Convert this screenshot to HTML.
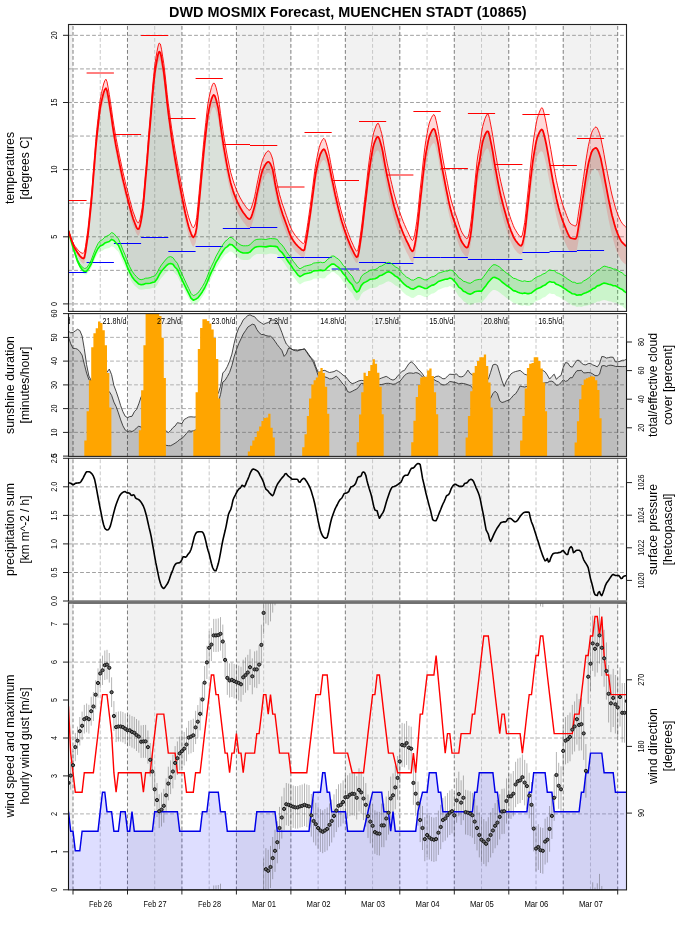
<!DOCTYPE html>
<html><head><meta charset="utf-8"><title>DWD MOSMIX Forecast</title>
<style>html,body{margin:0;padding:0;background:#fff}svg{display:block}</style>
</head><body>
<svg width="696" height="930" viewBox="0 0 696 930" font-family="Liberation Sans, sans-serif">
<rect width="696" height="930" fill="#fff"/>
<defs>
<clipPath id="c1"><rect x="68.5" y="24.5" width="558.0" height="286.9"/></clipPath>
<clipPath id="c2"><rect x="68.5" y="313.6" width="558.0" height="142.79999999999995"/></clipPath>
<clipPath id="c3"><rect x="68.5" y="458.3" width="558.0" height="142.49999999999994"/></clipPath>
<clipPath id="c4"><rect x="68.5" y="602.9" width="558.0" height="287.0"/></clipPath>
</defs>
<g clip-path="url(#c1)">
<rect x="68.5" y="24.5" width="4.5" height="286.9" fill="#f2f2f2"/><rect x="127.5" y="24.5" width="54.5" height="286.9" fill="#f2f2f2"/><rect x="236.4" y="24.5" width="54.5" height="286.9" fill="#f2f2f2"/><rect x="345.4" y="24.5" width="54.5" height="286.9" fill="#f2f2f2"/><rect x="454.3" y="24.5" width="54.5" height="286.9" fill="#f2f2f2"/><rect x="563.2" y="24.5" width="54.5" height="286.9" fill="#f2f2f2"/>
<line x1="68.5" y1="303.93" x2="626.5" y2="303.93" stroke="#a0a0a0" stroke-dasharray="3 3" stroke-linecap="round"/><line x1="68.5" y1="270.36" x2="626.5" y2="270.36" stroke="#a0a0a0" stroke-dasharray="3 3" stroke-linecap="round"/><line x1="68.5" y1="236.78" x2="626.5" y2="236.78" stroke="#a0a0a0" stroke-dasharray="3 3" stroke-linecap="round"/><line x1="68.5" y1="203.21" x2="626.5" y2="203.21" stroke="#a0a0a0" stroke-dasharray="3 3" stroke-linecap="round"/><line x1="68.5" y1="169.63" x2="626.5" y2="169.63" stroke="#a0a0a0" stroke-dasharray="3 3" stroke-linecap="round"/><line x1="68.5" y1="136.06" x2="626.5" y2="136.06" stroke="#a0a0a0" stroke-dasharray="3 3" stroke-linecap="round"/><line x1="68.5" y1="102.48" x2="626.5" y2="102.48" stroke="#a0a0a0" stroke-dasharray="3 3" stroke-linecap="round"/><line x1="68.5" y1="68.91" x2="626.5" y2="68.91" stroke="#a0a0a0" stroke-dasharray="3 3" stroke-linecap="round"/><line x1="68.5" y1="35.33" x2="626.5" y2="35.33" stroke="#a0a0a0" stroke-dasharray="3 3" stroke-linecap="round"/>
<line x1="73" y1="311.4" x2="73" y2="24.5" stroke="#7e7e7e" stroke-dasharray="3 3" stroke-linecap="round"/><line x1="127.47" y1="311.4" x2="127.47" y2="24.5" stroke="#7e7e7e" stroke-dasharray="3 3" stroke-linecap="round"/><line x1="181.94" y1="311.4" x2="181.94" y2="24.5" stroke="#7e7e7e" stroke-dasharray="3 3" stroke-linecap="round"/><line x1="236.41" y1="311.4" x2="236.41" y2="24.5" stroke="#7e7e7e" stroke-dasharray="3 3" stroke-linecap="round"/><line x1="290.88" y1="311.4" x2="290.88" y2="24.5" stroke="#7e7e7e" stroke-dasharray="3 3" stroke-linecap="round"/><line x1="345.35" y1="311.4" x2="345.35" y2="24.5" stroke="#7e7e7e" stroke-dasharray="3 3" stroke-linecap="round"/><line x1="399.82" y1="311.4" x2="399.82" y2="24.5" stroke="#7e7e7e" stroke-dasharray="3 3" stroke-linecap="round"/><line x1="454.29" y1="311.4" x2="454.29" y2="24.5" stroke="#7e7e7e" stroke-dasharray="3 3" stroke-linecap="round"/><line x1="508.76" y1="311.4" x2="508.76" y2="24.5" stroke="#7e7e7e" stroke-dasharray="3 3" stroke-linecap="round"/><line x1="563.23" y1="311.4" x2="563.23" y2="24.5" stroke="#7e7e7e" stroke-dasharray="3 3" stroke-linecap="round"/><line x1="617.7" y1="311.4" x2="617.7" y2="24.5" stroke="#7e7e7e" stroke-dasharray="3 3" stroke-linecap="round"/><line x1="100.24" y1="311.4" x2="100.24" y2="24.5" stroke="#c8c8c8" stroke-dasharray="3 3" stroke-linecap="round"/><line x1="154.71" y1="311.4" x2="154.71" y2="24.5" stroke="#c8c8c8" stroke-dasharray="3 3" stroke-linecap="round"/><line x1="209.18" y1="311.4" x2="209.18" y2="24.5" stroke="#c8c8c8" stroke-dasharray="3 3" stroke-linecap="round"/><line x1="263.65" y1="311.4" x2="263.65" y2="24.5" stroke="#c8c8c8" stroke-dasharray="3 3" stroke-linecap="round"/><line x1="318.12" y1="311.4" x2="318.12" y2="24.5" stroke="#c8c8c8" stroke-dasharray="3 3" stroke-linecap="round"/><line x1="372.59" y1="311.4" x2="372.59" y2="24.5" stroke="#c8c8c8" stroke-dasharray="3 3" stroke-linecap="round"/><line x1="427.06" y1="311.4" x2="427.06" y2="24.5" stroke="#c8c8c8" stroke-dasharray="3 3" stroke-linecap="round"/><line x1="481.53" y1="311.4" x2="481.53" y2="24.5" stroke="#c8c8c8" stroke-dasharray="3 3" stroke-linecap="round"/><line x1="536" y1="311.4" x2="536" y2="24.5" stroke="#c8c8c8" stroke-dasharray="3 3" stroke-linecap="round"/><line x1="590.47" y1="311.4" x2="590.47" y2="24.5" stroke="#c8c8c8" stroke-dasharray="3 3" stroke-linecap="round"/>
<polygon points="68.5,230.7 69.6,234.3 70.7,237.9 71.9,241.2 73,244.1 74.1,246.8 75.3,249 76.4,250.8 77.5,252.6 78.7,254.2 79.8,255.8 80.9,257 82.1,258 83.2,258.5 84.3,257.7 85.5,252.2 86.6,244.4 87.8,236.3 88.9,226.5 90,215.4 91.2,203.6 92.3,191.3 93.4,177.3 94.6,162.6 95.7,148.8 96.8,137.1 98,126.4 99.1,116.4 100.2,107.9 101.4,101.9 102.5,97 103.6,92.7 104.8,89.5 105.9,88.2 107,90.6 108.2,96.7 109.3,103.3 110.4,110.3 111.6,118.2 112.7,126.3 113.9,133.8 115,140.3 116.1,146.5 117.3,152.4 118.4,158.1 119.5,163.7 120.7,169.2 121.8,174.5 122.9,179.6 124.1,184.4 125.2,189.1 126.3,193.7 127.5,198 128.6,202.3 129.7,206.7 130.9,211.1 132,215.1 133.1,218.6 134.3,221.7 135.4,224.7 136.5,227.4 137.7,229.1 138.8,229 140,225.9 141.1,220.6 142.2,214.3 143.4,204.4 144.5,191.8 145.6,178.8 146.8,165.8 147.9,151.9 149,137.8 150.2,124.2 151.3,110.9 152.4,97.2 153.6,84.3 154.7,73.9 155.8,66.5 157,59.8 158.1,54.4 159.2,51.6 160.4,52.7 161.5,57.8 162.6,64.9 163.8,72.3 164.9,81.8 166.1,92.6 167.2,103.2 168.3,112.6 169.5,121.3 170.6,129.7 171.7,137.8 172.9,145.4 174,152.6 175.1,159.4 176.3,166 177.4,172.5 178.5,178.8 179.7,185 180.8,190.9 181.9,196.7 183.1,202.4 184.2,208 185.3,213.3 186.5,218.2 187.6,222.6 188.7,226.8 189.9,230.4 191,233.3 192.2,236.1 193.3,237.3 194.4,236 195.6,233.1 196.7,227.4 197.8,216.6 199,204 200.1,192.3 201.2,179.9 202.4,167.2 203.5,154.9 204.6,144 205.8,133.4 206.9,123.3 208,114.6 209.2,108.4 210.3,103.6 211.4,99.4 212.6,96.2 213.7,94.9 214.8,95.9 216,99.2 217.1,103.5 218.3,108.6 219.4,116.2 220.5,125.1 221.7,133.4 222.8,140.7 223.9,147.8 225.1,154.6 226.2,161 227.3,166.9 228.5,172.7 229.6,178.1 230.7,182.9 231.9,186.9 233,190.6 234.1,193.9 235.3,196.9 236.4,199.7 237.5,202.2 238.7,204.6 239.8,206.8 241,208.9 242.1,210.8 243.2,212.5 244.4,214 245.5,215.5 246.6,217 247.8,218.2 248.9,219 250,219.1 251.2,217.3 252.3,214.1 253.4,210.5 254.6,206.3 255.7,200.8 256.8,194.9 258,189.4 259.1,184.3 260.2,179 261.4,174.1 262.5,170.3 263.6,167.8 264.8,165.6 265.9,163.8 267.1,162.4 268.2,161.8 269.3,162.3 270.5,164 271.6,166.5 272.7,169.8 273.9,176.2 275,183 276.1,188.8 277.3,194.4 278.4,199.5 279.5,204 280.7,208 281.8,211.6 282.9,215 284.1,218.1 285.2,221.2 286.3,224.3 287.5,227.5 288.6,230.7 289.7,233.6 290.9,236.3 292,238.5 293.2,240.4 294.3,242 295.4,243.5 296.6,244.8 297.7,246 298.8,247.1 300,248.1 301.1,249.2 302.2,250 303.4,250.5 304.5,249.7 305.6,243.9 306.8,237.3 307.9,230.4 309,222.7 310.2,214.7 311.3,206.6 312.4,198 313.6,188.9 314.7,180.3 315.8,173 317,167.2 318.1,161.9 319.3,157.4 320.4,154 321.5,151.8 322.7,150 323.8,149.1 324.9,150.2 326.1,153.2 327.2,156.7 328.3,161 329.5,166.5 330.6,172.3 331.7,178 332.9,183.4 334,188.8 335.1,194.2 336.3,199.3 337.4,204.2 338.5,209 339.7,213.6 340.8,217.9 341.9,221.8 343.1,225.5 344.2,229 345.4,232.4 346.5,235.6 347.6,238.6 348.8,241.6 349.9,244.4 351,247 352.2,249.4 353.3,251.6 354.4,253.9 355.6,255.9 356.7,257.1 357.8,256.4 359,251.1 360.1,243.9 361.2,236.5 362.4,227.7 363.5,218 364.6,208.2 365.8,198.9 366.9,189.3 368,179.8 369.2,171 370.3,163.3 371.5,156.1 372.6,149.6 373.7,144.7 374.9,141.5 376,138.8 377.1,137.1 378.3,136.9 379.4,139.1 380.5,142.8 381.7,146.9 382.8,152 383.9,158.5 385.1,165.3 386.2,171.2 387.3,176.7 388.5,182.1 389.6,187.2 390.7,192.2 391.9,197 393,201.7 394.1,206.2 395.3,210.3 396.4,214.1 397.6,217.7 398.7,221.2 399.8,224.5 401,227.6 402.1,230.5 403.2,233.3 404.4,236 405.5,238.5 406.6,241 407.8,243.2 408.9,245.5 410,248 411.2,250.2 412.3,251.4 413.4,250.6 414.6,246.1 415.7,240 416.8,232.8 418,223.2 419.1,212.3 420.2,201.4 421.4,191.2 422.5,180.5 423.7,170 424.8,160.7 425.9,153.4 427.1,146.9 428.2,141.1 429.3,136.6 430.5,133.6 431.6,131.3 432.7,129.6 433.9,128.8 435,130.3 436.1,134.5 437.3,139.6 438.4,145.1 439.5,152 440.7,159.1 441.8,165.6 442.9,171.9 444.1,178 445.2,183.9 446.3,189.6 447.5,195.3 448.6,200.9 449.8,206.1 450.9,210.6 452,214.6 453.2,218.1 454.3,221.4 455.4,224.6 456.6,227.7 457.7,230.9 458.8,234.4 460,237.7 461.1,240.5 462.2,242.5 463.4,244.3 464.5,245.8 465.6,247 466.8,247.7 467.9,247.1 469,243.1 470.2,237.3 471.3,230 472.4,219.5 473.6,207.6 474.7,196.5 475.9,185.3 477,174.7 478.1,167.3 479.3,162.3 480.4,155.3 481.5,147.7 482.7,141.7 483.8,138.1 484.9,135 486.1,132.6 487.2,131.2 488.3,131.6 489.5,135.4 490.6,140.8 491.7,146.2 492.9,152.7 494,159.8 495.1,166.5 496.3,172.9 497.4,179.2 498.6,185.3 499.7,190.8 500.8,195.8 502,200.5 503.1,204.9 504.2,209.1 505.4,213.3 506.5,217.3 507.6,221.1 508.8,224.7 509.9,227.8 511,230.8 512.2,233.7 513.3,236.3 514.4,238.6 515.6,240.4 516.7,241.9 517.8,243.3 519,244.6 520.1,245.5 521.2,245.8 522.4,244 523.5,239.2 524.7,233.3 525.8,224.6 526.9,214 528.1,203.3 529.2,193.2 530.3,182.5 531.5,172.2 532.6,163 533.7,155.6 534.9,148.7 536,142.6 537.1,137.9 538.3,134.8 539.4,132.4 540.5,130.5 541.7,129.5 542.8,130.4 543.9,134.1 545.1,139 546.2,144 547.3,149.9 548.5,156.4 549.6,162.9 550.8,169.1 551.9,175.3 553,181.4 554.2,187.2 555.3,192.9 556.4,198.4 557.6,203.5 558.7,208 559.8,212 561,215.7 562.1,219.1 563.2,222.2 564.4,225.1 565.5,227.8 566.6,230.7 567.8,233.4 568.9,235.7 570,237.4 571.2,238.2 572.3,238.5 573.4,238.7 574.6,238.8 575.7,238.9 576.9,236.7 578,230.1 579.1,222.8 580.3,215.8 581.4,208.1 582.5,200.1 583.7,192.5 584.8,185.1 585.9,177.6 587.1,170.5 588.2,164.5 589.3,159.8 590.5,155.6 591.6,152.1 592.7,150 593.9,148.9 595,148.1 596.1,147.9 597.3,149.1 598.4,151.4 599.5,154.4 600.7,158.2 601.8,163.7 603,169.4 604.1,175.3 605.2,181.5 606.4,187.7 607.5,193.7 608.6,199.4 609.8,205 610.9,210.3 612,215.2 613.2,219.6 614.3,223.8 615.4,227.6 616.6,231 617.7,233.9 618.8,236.5 620,238.9 621.1,240.9 622.2,242.4 623.4,243.7 624.5,244.7 625.6,245.6 626.5,246.3 626.5,292.7 624.5,291.6 622.2,289.4 620,288.5 617.7,287.1 615.4,285.8 613.2,285.8 610.9,284.6 608.6,284.3 606.4,283.5 604.1,283.1 601.8,284 599.5,285.4 597.3,285.9 595,287.9 592.7,288.8 590.5,290.5 588.2,291.8 585.9,292.8 583.7,293.4 581.4,294.9 579.1,294.9 576.9,295.2 574.6,294 572.3,293.8 570,292.2 567.8,290.9 565.5,289.1 563.2,287.8 561,286.2 558.7,285.1 556.4,284.3 554.2,282.3 551.9,282.2 549.6,281.6 547.3,283.1 545.1,285.1 542.8,286 540.5,287.5 538.3,288.3 536,289.3 533.7,291.1 531.5,292.9 529.2,293.6 526.9,293.6 524.7,292.9 522.4,293.6 520.1,293 517.8,292.2 515.6,291.1 513.3,290.6 511,288.7 508.8,286.9 506.5,285.5 504.2,283.6 502,282 499.7,279.7 497.4,278.4 495.1,277.4 492.9,277.5 490.6,279.7 488.3,282.3 486.1,285.4 483.8,288.3 481.5,291.3 479.3,291 477,291.2 474.7,291.8 472.4,293.2 470.2,294.3 467.9,293.6 465.6,292.1 463.4,291.3 461.1,288.6 458.8,287.1 456.6,283.8 454.3,281.1 452,278.7 449.8,278 447.5,279.1 445.2,279.2 442.9,279.9 440.7,280.7 438.4,281.5 436.1,283.4 433.9,284.9 431.6,285.4 429.3,286.7 427.1,288.4 424.8,288.5 422.5,287.4 420.2,286.4 418,286.3 415.7,287.8 413.4,289.1 411.2,288.8 408.9,287.3 406.6,286.2 404.4,284.3 402.1,282.1 399.8,279.4 397.6,277.3 395.3,276.1 393,274.1 390.7,272.5 388.5,271.8 386.2,272.6 383.9,274 381.7,275.2 379.4,275.8 377.1,277.8 374.9,278.7 372.6,279 370.3,279.2 368,280.7 365.8,281.9 363.5,283 361.2,285.6 359,290.7 356.7,292.1 354.4,289.2 352.2,284.7 349.9,282.4 347.6,279.5 345.4,276 343.1,273.5 340.8,270 338.5,267.3 336.3,265.9 334,264 331.7,264.1 329.5,265.9 327.2,267.7 324.9,270.3 322.7,270.6 320.4,270.1 318.1,270.6 315.8,270.7 313.6,270.9 311.3,272.4 309,273 306.8,273.5 304.5,274 302.2,275.4 300,276.6 297.7,274.8 295.4,271.6 293.2,268.9 290.9,265.2 288.6,262.3 286.3,258.9 284.1,255.5 281.8,252.3 279.5,250.4 277.3,246.9 275,246.4 272.7,246.2 270.5,246 268.2,246.4 265.9,246.9 263.6,246.7 261.4,246.5 259.1,246.5 256.8,246.8 254.6,247.6 252.3,249.5 250,252.1 247.8,252.9 245.5,253 243.2,253 241,252.3 238.7,250.8 236.4,248.9 234.1,246.7 231.9,244.7 229.6,244.4 227.3,246.6 225.1,248.1 222.8,251.3 220.5,254.7 218.3,258.6 216,262.3 213.7,267.6 211.4,272.1 209.2,277.1 206.9,283 204.6,288 202.4,291.7 200.1,295.1 197.8,297.9 195.6,299.3 193.3,300.2 191,298.1 188.7,293.4 186.5,289.1 184.2,284.3 181.9,279.7 179.7,274.9 177.4,269.5 175.1,267.2 172.9,264.3 170.6,263.5 168.3,264.1 166.1,265.9 163.8,268.6 161.5,271.3 159.2,274.8 157,279.1 154.7,282 152.4,282.4 150.2,283.2 147.9,283.5 145.6,283.5 143.4,284.4 141.1,284.7 138.8,284.1 136.5,281.9 134.3,279.8 132,276.7 129.7,272.4 127.5,267.4 125.2,261.3 122.9,256.1 120.7,250.5 118.4,245.3 116.1,243 113.9,240.5 111.6,239.4 109.3,241.5 107,242.2 104.8,243.1 102.5,245.1 100.2,246 98,248.5 95.7,253 93.4,258.4 91.2,264 88.9,268.1 86.6,271.3 84.3,271.4 82.1,269.5 79.8,266.2 77.5,261.5 75.3,254.8 73,247.5 70.7,239.8 68.5,230.7" fill="rgba(0,45,0,0.145)"/>
<polygon points="68.5,230.7 69.6,233.9 70.7,237.1 71.9,240 73,242.6 74.1,244.8 75.3,246.6 76.4,248 77.5,249.4 78.7,250.7 79.8,251.8 80.9,252.6 82.1,253.2 83.2,253.3 84.3,252.2 85.5,246.5 86.6,238.5 87.8,230.3 88.9,220.3 90,209 91.2,197 92.3,184.5 93.4,170.3 94.6,155.5 95.7,141.4 96.8,129.6 98,118.7 99.1,108.5 100.2,99.9 101.4,93.6 102.5,88.6 103.6,84 104.8,80.7 105.9,79.2 107,81.7 108.2,87.9 109.3,94.5 110.4,101.6 111.6,109.7 112.7,117.9 113.9,125.4 115,132.1 116.1,138.3 117.3,144.3 118.4,150.2 119.5,155.9 120.7,161.4 121.8,166.8 122.9,172 124.1,176.9 125.2,181.7 126.3,186.4 127.5,190.8 128.6,195.2 129.7,199.7 130.9,204.1 132,208.3 133.1,211.9 134.3,215 135.4,218.2 136.5,220.9 137.7,222.7 138.8,222.7 140,219.4 141.1,214 142.2,207.6 143.4,197.5 144.5,184.8 145.6,171.7 146.8,158.6 147.9,144.6 149,130.3 150.2,116.6 151.3,103.2 152.4,89.3 153.6,76.4 154.7,65.8 155.8,58.3 157,51.5 158.1,46 159.2,43 160.4,44 161.5,49.2 162.6,56.2 163.8,63.6 164.9,73.1 166.1,83.8 167.2,94.4 168.3,103.7 169.5,112.4 170.6,120.8 171.7,128.8 172.9,136.4 174,143.6 175.1,150.4 176.3,157 177.4,163.4 178.5,169.7 179.7,175.8 180.8,181.8 181.9,187.5 183.1,193.2 184.2,198.7 185.3,204 186.5,208.9 187.6,213.3 188.7,217.4 189.9,221 191,223.9 192.2,226.6 193.3,227.8 194.4,226.3 195.6,223.3 196.7,217.5 197.8,206.6 199,193.8 200.1,181.9 201.2,169.4 202.4,156.5 203.5,144.2 204.6,133.1 205.8,122.4 206.9,112.1 208,103.3 209.2,97 210.3,92 211.4,87.6 212.6,84.4 213.7,82.9 214.8,84 216,87.3 217.1,91.8 218.3,97 219.4,104.7 220.5,113.6 221.7,122.1 222.8,129.5 223.9,136.7 225.1,143.6 226.2,150 227.3,156.1 228.5,162 229.6,167.5 230.7,172.4 231.9,176.5 233,180.2 234.1,183.6 235.3,186.7 236.4,189.6 237.5,192.3 238.7,194.7 239.8,197.1 241,199.2 242.1,201.2 243.2,203 244.4,204.6 245.5,206.3 246.6,207.8 247.8,209.2 248.9,210.1 250,210.2 251.2,208.2 252.3,204.9 253.4,201.2 254.6,196.8 255.7,191.3 256.8,185.2 258,179.5 259.1,174.3 260.2,168.9 261.4,163.9 262.5,159.9 263.6,157.3 264.8,155 265.9,153 267.1,151.6 268.2,150.8 269.3,151.4 270.5,153.2 271.6,155.9 272.7,159.2 273.9,165.8 275,172.8 276.1,178.7 277.3,184.4 278.4,189.7 279.5,194.3 280.7,198.4 281.8,202.2 282.9,205.6 284.1,208.9 285.2,212.2 286.3,215.4 287.5,218.7 288.6,222 289.7,225.1 290.9,227.9 292,230.3 293.2,232.2 294.3,234 295.4,235.6 296.6,237 297.7,238.4 298.8,239.5 300,240.8 301.1,241.9 302.2,242.9 303.4,243.5 304.5,242.4 305.6,236.5 306.8,229.6 307.9,222.5 309,214.7 310.2,206.4 311.3,198.2 312.4,189.4 313.6,180 314.7,171.2 315.8,163.7 317,157.7 318.1,152.2 319.3,147.4 320.4,143.9 321.5,141.4 322.7,139.4 323.8,138.3 324.9,139.5 326.1,142.7 327.2,146.4 328.3,150.9 329.5,156.5 330.6,162.6 331.7,168.4 332.9,174 334,179.6 335.1,185.1 336.3,190.4 337.4,195.5 338.5,200.4 339.7,205.2 340.8,209.7 341.9,213.8 343.1,217.7 344.2,221.4 345.4,224.9 346.5,228.2 347.6,231.5 348.8,234.6 349.9,237.6 351,240.4 352.2,242.9 353.3,245.3 354.4,247.8 355.6,250 356.7,251.3 357.8,250.4 359,244.7 360.1,237.1 361.2,229.3 362.4,220 363.5,209.9 364.6,199.7 365.8,190 366.9,179.9 368,169.9 369.2,160.7 370.3,152.6 371.5,144.9 372.6,138 373.7,132.7 374.9,129.1 376,126 377.1,123.8 378.3,123.3 379.4,125.6 380.5,129.4 381.7,133.6 382.8,138.8 383.9,145.4 385.1,152.2 386.2,158.2 387.3,163.8 388.5,169.3 389.6,174.5 390.7,179.5 391.9,184.5 393,189.2 394.1,193.8 395.3,198 396.4,201.9 397.6,205.6 398.7,209.1 399.8,212.5 401,215.7 402.1,218.7 403.2,221.6 404.4,224.4 405.5,227 406.6,229.5 407.8,231.8 408.9,234.3 410,236.8 411.2,239.1 412.3,240.4 413.4,239.5 414.6,234.8 415.7,228.5 416.8,221.2 418,211.4 419.1,200.3 420.2,189.2 421.4,178.9 422.5,168 423.7,157.3 424.8,147.8 425.9,140.4 427.1,133.7 428.2,127.7 429.3,123 430.5,119.9 431.6,117.4 432.7,115.5 433.9,114.5 435,116.2 436.1,120.5 437.3,125.8 438.4,131.5 439.5,138.6 440.7,145.9 441.8,152.6 442.9,159 444.1,165.3 445.2,171.4 446.3,177.3 447.5,183.2 448.6,189 449.8,194.3 450.9,199.1 452,203.2 453.2,206.9 454.3,210.4 455.4,213.8 456.6,217.1 457.7,220.5 458.8,224.1 460,227.6 461.1,230.6 462.2,232.8 463.4,234.7 464.5,236.5 465.6,237.8 466.8,238.7 467.9,237.9 469,233.5 470.2,227.2 471.3,219.5 472.4,208.5 473.6,196.2 474.7,184.6 475.9,172.9 477,161.8 478.1,153.9 479.3,148.5 480.4,141.1 481.5,133 482.7,126.4 483.8,122.4 484.9,118.8 486.1,116 487.2,114.1 488.3,114.3 489.5,118.4 490.6,124.1 491.7,129.8 492.9,136.6 494,144 495.1,151 496.3,157.7 497.4,164.3 498.6,170.6 499.7,176.5 500.8,181.8 502,186.8 503.1,191.5 504.2,196 505.4,200.4 506.5,204.8 507.6,208.9 508.8,212.7 509.9,216.2 511,219.5 512.2,222.6 513.3,225.6 514.4,228.1 515.6,230.2 516.7,232 517.8,233.8 519,235.3 520.1,236.5 521.2,237.2 522.4,234.8 523.5,229.2 524.7,222.6 525.8,213.1 526.9,201.8 528.1,190.4 529.2,179.5 530.3,168.1 531.5,157 532.6,147.1 533.7,139 534.9,131.3 536,124.5 537.1,119 538.3,115.3 539.4,112.1 540.5,109.4 541.7,107.7 542.8,108.6 543.9,112.6 545.1,117.9 546.2,123.2 547.3,129.4 548.5,136.2 549.6,143 550.8,149.5 551.9,156 553,162.4 554.2,168.5 555.3,174.5 556.4,180.4 557.6,185.8 558.7,190.5 559.8,194.8 561,198.9 562.1,202.6 563.2,206.1 564.4,209.3 565.5,212.3 566.6,215.4 567.8,218.4 568.9,221.1 570,223.1 571.2,224.2 572.3,224.8 573.4,225.3 574.6,225.8 575.7,226.1 576.9,223.6 578,216.5 579.1,208.8 580.3,201.3 581.4,193.1 582.5,184.7 583.7,176.6 584.8,168.7 585.9,160.7 587.1,153.2 588.2,146.7 589.3,141.6 590.5,136.8 591.6,132.9 592.7,130.4 593.9,128.7 595,127.4 596.1,126.9 597.3,128.1 598.4,130.6 599.5,133.6 600.7,137.5 601.8,143 603,148.8 604.1,154.7 605.2,161 606.4,167.3 607.5,173.3 608.6,179 609.8,184.7 610.9,190.1 612,195 613.2,199.5 614.3,203.7 615.4,207.6 616.6,211.1 617.7,214.2 618.8,216.9 620,219.5 621.1,221.6 622.2,223.3 623.4,224.7 624.5,225.9 625.6,226.9 626.5,227.7 626.5,264.9 625.6,264.3 624.5,263.6 623.4,262.7 622.2,261.6 621.1,260.2 620,258.3 618.8,256.1 617.7,253.6 616.6,250.9 615.4,247.6 614.3,243.8 613.2,239.7 612,235.4 610.9,230.5 609.8,225.3 608.6,219.7 607.5,214.1 606.4,208.2 605.2,202 604.1,195.9 603,190.1 601.8,184.4 600.7,179 599.5,175.2 598.4,172.3 597.3,170 596.1,168.9 595,168.7 593.9,169 592.7,169.7 591.6,171.4 590.5,174.3 589.3,178.1 588.2,182.3 587.1,187.8 585.9,194.5 584.8,201.5 583.7,208.4 582.5,215.6 581.4,223.1 580.3,230.3 579.1,236.9 578,243.7 576.9,249.8 575.7,251.6 574.6,251.9 573.4,252.1 572.3,252.2 571.2,252.2 570,251.7 568.9,250.3 567.8,248.3 566.6,245.9 565.5,243.4 564.4,241 563.2,238.4 562.1,235.6 561,232.5 559.8,229.1 558.7,225.4 557.6,221.2 556.4,216.5 555.3,211.2 554.2,205.8 553,200.4 551.9,194.6 550.8,188.7 549.6,182.8 548.5,176.7 547.3,170.4 546.2,164.8 545.1,160.2 543.9,155.5 542.8,152.2 541.7,151.3 540.5,151.5 539.4,152.7 538.3,154.4 537.1,156.7 536,160.7 534.9,166.1 533.7,172.2 532.6,178.9 531.5,187.3 530.3,197 529.2,206.9 528.1,216.2 526.9,226.2 525.8,236.1 524.7,244 523.5,249.2 522.4,253.3 521.2,254.5 520.1,254.4 519,253.8 517.8,252.9 516.7,251.7 515.6,250.5 514.4,249 513.3,247 512.2,244.7 511,242.1 509.9,239.4 508.8,236.6 507.6,233.4 506.5,229.8 505.4,226.1 504.2,222.3 503.1,218.3 502,214.2 500.8,209.9 499.7,205.1 498.6,199.9 497.4,194.1 496.3,188.1 495.1,182.1 494,175.6 492.9,168.8 491.7,162.6 490.6,157.5 489.5,152.4 488.3,148.9 487.2,148.3 486.1,149.2 484.9,151.1 483.8,153.8 482.7,156.9 481.5,162.5 480.4,169.6 479.3,176.1 478.1,180.6 477,187.5 475.9,197.7 474.7,208.5 473.6,219.1 472.4,230.5 471.3,240.6 470.2,247.3 469,252.7 467.9,256.2 466.8,256.7 465.6,256.2 464.5,255.2 463.4,253.8 462.2,252.3 461.1,250.4 460,247.8 458.8,244.7 457.7,241.4 456.6,238.4 455.4,235.4 454.3,232.4 453.2,229.3 452,225.9 450.9,222.2 449.8,217.8 448.6,212.8 447.5,207.4 446.3,201.9 445.2,196.4 444.1,190.6 442.9,184.7 441.8,178.7 440.7,172.3 439.5,165.4 438.4,158.7 437.3,153.4 436.1,148.4 435,144.4 433.9,143.1 432.7,143.7 431.6,145.3 430.5,147.4 429.3,150.1 428.2,154.5 427.1,160.1 425.9,166.5 424.8,173.6 423.7,182.7 422.5,193 421.4,203.6 420.2,213.6 419.1,224.3 418,235 416.8,244.5 415.7,251.4 414.6,257.4 413.4,261.7 412.3,262.5 411.2,261.3 410,259.2 408.9,256.8 407.8,254.6 406.6,252.4 405.5,250.1 404.4,247.6 403.2,245 402.1,242.3 401,239.4 399.8,236.4 398.7,233.2 397.6,229.9 396.4,226.3 395.3,222.6 394.1,218.5 393,214.2 391.9,209.6 390.7,204.8 389.6,199.9 388.5,194.9 387.3,189.6 386.2,184.2 385.1,178.3 383.9,171.7 382.8,165.3 381.7,160.2 380.5,156.2 379.4,152.6 378.3,150.5 377.1,150.4 376,151.7 374.9,154 373.7,156.7 372.6,161.2 371.5,167.2 370.3,174.1 369.2,181.2 368,189.6 366.9,198.7 365.8,207.9 364.6,216.8 363.5,226.1 362.4,235.4 361.2,243.8 360.1,250.7 359,257.5 357.8,262.3 356.7,262.9 355.6,261.9 354.4,260 353.3,257.9 352.2,255.9 351,253.7 349.9,251.2 348.8,248.6 347.6,245.8 346.5,242.9 345.4,239.9 344.2,236.7 343.1,233.4 341.9,229.8 340.8,226.1 339.7,222 338.5,217.5 337.4,213 336.3,208.2 335.1,203.3 334,198.1 332.9,192.8 331.7,187.6 330.6,182.1 329.5,176.4 328.3,171.2 327.2,167 326.1,163.6 324.9,160.8 323.8,159.9 322.7,160.5 321.5,162.1 320.4,164.2 319.3,167.3 318.1,171.6 317,176.8 315.8,182.4 314.7,189.4 313.6,197.8 312.4,206.7 311.3,215.1 310.2,223 309,230.8 307.9,238.2 306.8,244.9 305.6,251.4 304.5,256.9 303.4,257.5 302.2,257.2 301.1,256.4 300,255.5 298.8,254.6 297.7,253.6 296.6,252.6 295.4,251.4 294.3,250.1 293.2,248.5 292,246.8 290.9,244.7 289.7,242.2 288.6,239.3 287.5,236.3 286.3,233.3 285.2,230.3 284.1,227.4 282.9,224.3 281.8,221.1 280.7,217.6 279.5,213.8 278.4,209.4 277.3,204.4 276.1,198.9 275,193.2 273.9,186.6 272.7,180.3 271.6,177.2 270.5,174.7 269.3,173.2 268.2,172.8 267.1,173.3 265.9,174.5 264.8,176.2 263.6,178.3 262.5,180.6 261.4,184.3 260.2,189.1 259.1,194.2 258,199.2 256.8,204.6 255.7,210.4 254.6,215.7 253.4,219.8 252.3,223.3 251.2,226.4 250,228 248.9,228 247.8,227.3 246.6,226.2 245.5,224.8 244.4,223.3 243.2,221.9 242.1,220.3 241,218.5 239.8,216.6 238.7,214.4 237.5,212.2 236.4,209.7 235.3,207 234.1,204.1 233,200.9 231.9,197.4 230.7,193.4 229.6,188.7 228.5,183.4 227.3,177.8 226.2,171.9 225.1,165.6 223.9,158.9 222.8,151.9 221.7,144.8 220.5,136.5 219.4,127.7 218.3,120.2 217.1,115.2 216,111 214.8,107.8 213.7,106.9 212.6,108.1 211.4,111.1 210.3,115.2 209.2,119.9 208,125.9 206.9,134.4 205.8,144.4 204.6,154.9 203.5,165.7 202.4,177.8 201.2,190.4 200.1,202.6 199,214.2 197.8,226.7 196.7,237.3 195.6,242.9 194.4,245.6 193.3,246.8 192.2,245.5 191,242.8 189.9,239.8 188.7,236.2 187.6,232 186.5,227.6 185.3,222.6 184.2,217.2 183.1,211.6 181.9,205.9 180.8,200.1 179.7,194.1 178.5,187.9 177.4,181.5 176.3,175.1 175.1,168.4 174,161.6 172.9,154.3 171.7,146.7 170.6,138.6 169.5,130.2 168.3,121.4 167.2,112 166.1,101.4 164.9,90.6 163.8,81 162.6,73.5 161.5,66.5 160.4,61.3 159.2,60.2 158.1,62.9 157,68.1 155.8,74.7 154.7,82 153.6,92.3 152.4,105 151.3,118.6 150.2,131.8 149,145.2 147.9,159.2 146.8,173 145.6,185.9 144.5,198.7 143.4,211.2 142.2,221 141.1,227.2 140,232.4 138.8,235.4 137.7,235.4 136.5,233.8 135.4,231.3 134.3,228.3 133.1,225.4 132,221.9 130.9,218 129.7,213.8 128.6,209.5 127.5,205.3 126.3,201 125.2,196.5 124.1,191.9 122.9,187.1 121.8,182.2 120.7,177 119.5,171.6 118.4,166.1 117.3,160.5 116.1,154.6 115,148.6 113.9,142.1 112.7,134.8 111.6,126.8 110.4,118.9 109.3,112 108.2,105.5 107,99.5 105.9,97.2 104.8,98.3 103.6,101.3 102.5,105.4 101.4,110.1 100.2,116 99.1,124.2 98,134.1 96.8,144.7 95.7,156.1 94.6,169.7 93.4,184.2 92.3,198.1 91.2,210.2 90,221.8 88.9,232.7 87.8,242.4 86.6,250.2 85.5,257.9 84.3,263.2 83.2,263.7 82.1,262.8 80.9,261.4 79.8,259.7 78.7,257.8 77.5,255.8 76.4,253.6 75.3,251.4 74.1,248.8 73,245.7 71.9,242.3 70.7,238.6 69.6,234.7 68.5,230.7" fill="rgba(255,0,0,0.15)"/>
<polygon points="68.5,230.4 70.7,239.2 73,246.5 75.3,253.4 77.5,259.7 79.8,264 82.1,266.9 84.3,268.5 86.6,268 88.9,264.5 91.2,260.1 93.4,254.2 95.7,248.4 98,243.6 100.2,240.8 102.5,239.6 104.8,237.2 107,236 109.3,234.9 111.6,232.5 113.9,233.6 116.1,236.3 118.4,238.7 120.7,244.1 122.9,249.9 125.2,255.2 127.5,261.5 129.7,266.7 132,271.1 134.3,274.3 136.5,276.6 138.8,279 141.1,279.7 143.4,279.2 145.6,278.2 147.9,278.1 150.2,277.6 152.4,276.6 154.7,276 157,273 159.2,268.6 161.5,264.9 163.8,262 166.1,259.1 168.3,257.2 170.6,256.6 172.9,257.6 175.1,260.7 177.4,263.3 179.7,269 181.9,273.9 184.2,278.8 186.5,283.9 188.7,288.4 191,293.4 193.3,295.7 195.6,294.6 197.8,293.1 200.1,290.1 202.4,286.6 204.6,282.7 206.9,277.6 209.2,271.5 211.4,266.4 213.7,261.7 216,256.3 218.3,252.3 220.5,248.3 222.8,244.8 225.1,241.4 227.3,239.8 229.6,237.4 231.9,237.7 234.1,239.6 236.4,241.9 238.7,243.7 241,245.2 243.2,245.8 245.5,245.8 247.8,245.7 250,244.8 252.3,242.2 254.6,240.3 256.8,239.4 259.1,239.2 261.4,239.1 263.6,239.3 265.9,239.5 268.2,238.9 270.5,238.5 272.7,238.7 275,238.8 277.3,239.4 279.5,242.8 281.8,244.7 284.1,247.8 286.3,251.3 288.6,254.6 290.9,257.5 293.2,261.2 295.4,263.9 297.7,267.1 300,268.9 302.2,267.6 304.5,266.3 306.8,265.7 309,265.2 311.3,264.6 313.6,263.1 315.8,262.8 318.1,262.7 320.4,262.2 322.7,262.7 324.9,262.3 327.2,259.7 329.5,258 331.7,256.1 334,256 336.3,257.8 338.5,259.2 340.8,261.8 343.1,265.2 345.4,267.7 347.6,271.1 349.9,273.9 352.2,276.2 354.4,280.7 356.7,283.4 359,282 361.2,276.8 363.5,274.2 365.8,273 368,271.7 370.3,270.2 372.6,269.9 374.9,269.6 377.1,268.6 379.4,266.6 381.7,265.9 383.9,264.6 386.2,263.1 388.5,262.3 390.7,263 393,264.7 395.3,266.8 397.6,268 399.8,270.1 402.1,272.9 404.4,275.2 406.6,277.2 408.9,278.3 411.2,279.9 413.4,280.2 415.7,278.9 418,277.5 420.2,277.7 422.5,278.8 424.8,279.9 427.1,279.8 429.3,278.2 431.6,276.9 433.9,276.5 436.1,275.1 438.4,273.2 440.7,272.5 442.9,271.8 445.2,271 447.5,271.1 449.8,270 452,270.4 454.3,272.4 456.6,274.8 458.8,277.8 461.1,279 463.4,281.3 465.6,281.8 467.9,282.9 470.2,283.3 472.4,282 474.7,280.4 477,279.8 479.3,279.4 481.5,279.5 483.8,276.4 486.1,273.3 488.3,270.1 490.6,267.3 492.9,264.9 495.1,264.7 497.4,265.7 499.7,267.1 502,269.4 504.2,271.1 506.5,273.1 508.8,274.5 511,276.3 513.3,278.2 515.6,278.7 517.8,279.9 520.1,280.7 522.4,281.4 524.7,280.8 526.9,281.5 529.2,281.5 531.5,280.9 533.7,279.1 536,277.4 538.3,276.4 540.5,275.6 542.8,274.1 545.1,273.3 547.3,271.4 549.6,269.9 551.9,270.5 554.2,270.6 556.4,272.6 558.7,273.4 561,274.5 563.2,276.1 565.5,277.4 567.8,279.2 570,280.5 572.3,282.1 574.6,282.3 576.9,283.5 579.1,283.2 581.4,282.9 583.7,280.9 585.9,279.8 588.2,278.3 590.5,276.5 592.7,274.3 595,272.9 597.3,270.3 599.5,269.4 601.8,267.5 604.1,266.1 606.4,266.6 608.6,267.4 610.9,267.8 613.2,269 615.4,269.1 617.7,270.4 620,271.9 622.2,272.8 624.5,275.1 626.5,276.2 626.5,309.2 624.5,308.2 622.2,306 620,305.2 617.7,303.8 615.4,302.6 613.2,302.6 610.9,301.5 608.6,301.2 606.4,300.5 604.1,300.1 601.8,300.5 599.5,301.5 597.3,301.4 595,303 592.7,303.3 590.5,304.5 588.2,305.3 585.9,305.8 583.7,305.9 581.4,306.9 579.1,306.6 576.9,306.9 574.6,305.7 572.3,305.5 570,303.9 567.8,302.6 565.5,300.8 563.2,299.5 561,297.9 558.7,296.8 556.4,296 554.2,294 551.9,293.9 549.6,293.3 547.3,294.9 545.1,296.9 542.8,297.8 540.5,299.4 538.3,300.2 536,301.3 533.7,303 531.5,305 529.2,305.7 526.9,305.7 524.7,305.1 522.4,305.8 520.1,305.2 517.8,304.5 515.6,303.4 513.3,302.9 511,301.1 508.8,299.4 506.5,298 504.2,296.1 502,294.6 499.7,292.4 497.4,291 495.1,290.1 492.9,290.1 490.6,292.1 488.3,294.6 486.1,297.5 483.8,300.2 481.5,303 479.3,302.6 477,302.7 474.7,303.1 472.4,304.3 470.2,305.3 467.9,304.3 465.6,302.4 463.4,301.3 461.1,298.3 458.8,296.4 456.6,292.8 454.3,289.7 452,287 449.8,286 447.5,287.2 445.2,287.3 442.9,288.1 440.7,289 438.4,289.8 436.1,291.7 433.9,293.3 431.6,293.8 429.3,295.2 427.1,296.9 424.8,297.1 422.5,296.1 420.2,295.1 418,295 415.7,296.6 413.4,298 411.2,297.7 408.9,296.3 406.6,295.2 404.4,293.4 402.1,291.3 399.8,288.6 397.6,286.5 395.3,285.5 393,283.4 390.7,281.9 388.5,281.3 386.2,282 383.9,283.4 381.7,284.5 379.4,285.1 377.1,287 374.9,287.8 372.6,288.1 370.3,288.2 368,289.6 365.8,290.8 363.5,291.9 361.2,294.4 359,299.4 356.7,300.7 354.4,297.8 352.2,293.2 349.9,290.9 347.6,287.9 345.4,284.3 343.1,281.8 340.8,278.2 338.5,275.5 336.3,274 334,272.1 331.7,272.1 329.5,273.9 327.2,275.6 324.9,278.2 322.7,278.6 320.4,278 318.1,278.4 315.8,278.6 313.6,278.8 311.3,280.3 309,280.8 306.8,281.2 304.5,281.8 302.2,283.1 300,284.4 297.7,282.5 295.4,279.3 293.2,276.6 290.9,272.9 288.6,269.9 286.3,266.5 284.1,263.1 281.8,259.9 279.5,258 277.3,254.5 275,253.9 272.7,253.7 270.5,253.5 268.2,253.9 265.9,254.4 263.6,254.1 261.4,253.9 259.1,253.9 256.8,254.1 254.6,254.9 252.3,256.7 250,259.3 247.8,260.1 245.5,260.1 243.2,260.1 241,259.4 238.7,257.9 236.4,256 234.1,253.7 231.9,251.7 229.6,251.4 227.3,253.4 225.1,254.8 222.8,257.8 220.5,261.1 218.3,264.8 216,268.4 213.7,273.5 211.4,277.9 209.2,282.7 206.9,288.4 204.6,293.3 202.4,296.8 200.1,300.1 197.8,302.8 195.6,303.9 193.3,304.7 191,302.8 188.7,298.3 186.5,294.4 184.2,289.7 181.9,285.4 179.7,280.9 177.4,275.7 175.1,273.6 172.9,271 170.6,270.5 168.3,271 166.1,272.6 163.8,275.2 161.5,277.7 159.2,281.1 157,285.2 154.7,287.9 152.4,288.1 150.2,288.8 147.9,289 145.6,288.9 143.4,289.6 141.1,289.7 138.8,289.3 136.5,287.2 134.3,285.2 132,282.3 129.7,278.2 127.5,273.4 125.2,267.3 122.9,262.4 120.7,256.9 118.4,251.8 116.1,249.7 113.9,247.3 111.6,246.3 109.3,248.1 107,248.5 104.8,249 102.5,250.7 100.2,251.3 98,253.4 95.7,257.6 93.4,262.7 91.2,267.9 88.9,271.6 86.6,274.5 84.3,274.3 82.1,272 79.8,268.3 77.5,263.3 75.3,256.2 73,248.5 70.7,240.5 68.5,231" fill="rgba(0,255,0,0.16)"/>
<line x1="68.5" y1="200.5" x2="86.6" y2="200.5" stroke="#ff0000" stroke-width="1"/>
<line x1="68.5" y1="272.5" x2="86.6" y2="272.5" stroke="#0000ff" stroke-width="1"/>
<line x1="86.6" y1="73" x2="113.9" y2="73" stroke="#ff0000" stroke-width="1"/>
<line x1="86.6" y1="262.5" x2="113.9" y2="262.5" stroke="#0000ff" stroke-width="1"/>
<line x1="113.9" y1="134.5" x2="141.1" y2="134.5" stroke="#ff0000" stroke-width="1"/>
<line x1="113.9" y1="243.5" x2="141.1" y2="243.5" stroke="#0000ff" stroke-width="1"/>
<line x1="141.1" y1="35.5" x2="168.3" y2="35.5" stroke="#ff0000" stroke-width="1"/>
<line x1="141.1" y1="237.5" x2="168.3" y2="237.5" stroke="#0000ff" stroke-width="1"/>
<line x1="168.3" y1="118.5" x2="195.6" y2="118.5" stroke="#ff0000" stroke-width="1"/>
<line x1="168.3" y1="251.5" x2="195.6" y2="251.5" stroke="#0000ff" stroke-width="1"/>
<line x1="195.6" y1="78.5" x2="222.8" y2="78.5" stroke="#ff0000" stroke-width="1"/>
<line x1="195.6" y1="246.5" x2="222.8" y2="246.5" stroke="#0000ff" stroke-width="1"/>
<line x1="222.8" y1="144.5" x2="250" y2="144.5" stroke="#ff0000" stroke-width="1"/>
<line x1="222.8" y1="228.5" x2="250" y2="228.5" stroke="#0000ff" stroke-width="1"/>
<line x1="250" y1="145.5" x2="277.3" y2="145.5" stroke="#ff0000" stroke-width="1"/>
<line x1="250" y1="227.5" x2="277.3" y2="227.5" stroke="#0000ff" stroke-width="1"/>
<line x1="277.3" y1="187" x2="304.5" y2="187" stroke="#ff0000" stroke-width="1"/>
<line x1="277.3" y1="257.5" x2="304.5" y2="257.5" stroke="#0000ff" stroke-width="1"/>
<line x1="304.5" y1="132.5" x2="331.7" y2="132.5" stroke="#ff0000" stroke-width="1"/>
<line x1="304.5" y1="257.5" x2="331.7" y2="257.5" stroke="#0000ff" stroke-width="1"/>
<line x1="331.7" y1="180.5" x2="359" y2="180.5" stroke="#ff0000" stroke-width="1"/>
<line x1="331.7" y1="269" x2="359" y2="269" stroke="#0000ff" stroke-width="1"/>
<line x1="359" y1="121.5" x2="386.2" y2="121.5" stroke="#ff0000" stroke-width="1"/>
<line x1="359" y1="262.5" x2="386.2" y2="262.5" stroke="#0000ff" stroke-width="1"/>
<line x1="386.2" y1="175" x2="413.4" y2="175" stroke="#ff0000" stroke-width="1"/>
<line x1="386.2" y1="263.5" x2="413.4" y2="263.5" stroke="#0000ff" stroke-width="1"/>
<line x1="413.4" y1="111.5" x2="440.7" y2="111.5" stroke="#ff0000" stroke-width="1"/>
<line x1="413.4" y1="257.5" x2="440.7" y2="257.5" stroke="#0000ff" stroke-width="1"/>
<line x1="440.7" y1="168.5" x2="467.9" y2="168.5" stroke="#ff0000" stroke-width="1"/>
<line x1="440.7" y1="257.5" x2="467.9" y2="257.5" stroke="#0000ff" stroke-width="1"/>
<line x1="467.9" y1="113.5" x2="495.1" y2="113.5" stroke="#ff0000" stroke-width="1"/>
<line x1="467.9" y1="259.5" x2="495.1" y2="259.5" stroke="#0000ff" stroke-width="1"/>
<line x1="495.1" y1="164.5" x2="522.4" y2="164.5" stroke="#ff0000" stroke-width="1"/>
<line x1="495.1" y1="259.5" x2="522.4" y2="259.5" stroke="#0000ff" stroke-width="1"/>
<line x1="522.4" y1="114.5" x2="549.6" y2="114.5" stroke="#ff0000" stroke-width="1"/>
<line x1="522.4" y1="252.5" x2="549.6" y2="252.5" stroke="#0000ff" stroke-width="1"/>
<line x1="549.6" y1="165.5" x2="576.9" y2="165.5" stroke="#ff0000" stroke-width="1"/>
<line x1="549.6" y1="251.5" x2="576.9" y2="251.5" stroke="#0000ff" stroke-width="1"/>
<line x1="576.9" y1="138.5" x2="604.1" y2="138.5" stroke="#ff0000" stroke-width="1"/>
<line x1="576.9" y1="250.5" x2="604.1" y2="250.5" stroke="#0000ff" stroke-width="1"/>
<polyline points="68.5,230.4 70.7,239.2 73,246.5 75.3,253.4 77.5,259.7 79.8,264 82.1,266.9 84.3,268.5 86.6,268 88.9,264.5 91.2,260.1 93.4,254.2 95.7,248.4 98,243.6 100.2,240.8 102.5,239.6 104.8,237.2 107,236 109.3,234.9 111.6,232.5 113.9,233.6 116.1,236.3 118.4,238.7 120.7,244.1 122.9,249.9 125.2,255.2 127.5,261.5 129.7,266.7 132,271.1 134.3,274.3 136.5,276.6 138.8,279 141.1,279.7 143.4,279.2 145.6,278.2 147.9,278.1 150.2,277.6 152.4,276.6 154.7,276 157,273 159.2,268.6 161.5,264.9 163.8,262 166.1,259.1 168.3,257.2 170.6,256.6 172.9,257.6 175.1,260.7 177.4,263.3 179.7,269 181.9,273.9 184.2,278.8 186.5,283.9 188.7,288.4 191,293.4 193.3,295.7 195.6,294.6 197.8,293.1 200.1,290.1 202.4,286.6 204.6,282.7 206.9,277.6 209.2,271.5 211.4,266.4 213.7,261.7 216,256.3 218.3,252.3 220.5,248.3 222.8,244.8 225.1,241.4 227.3,239.8 229.6,237.4 231.9,237.7 234.1,239.6 236.4,241.9 238.7,243.7 241,245.2 243.2,245.8 245.5,245.8 247.8,245.7 250,244.8 252.3,242.2 254.6,240.3 256.8,239.4 259.1,239.2 261.4,239.1 263.6,239.3 265.9,239.5 268.2,238.9 270.5,238.5 272.7,238.7 275,238.8 277.3,239.4 279.5,242.8 281.8,244.7 284.1,247.8 286.3,251.3 288.6,254.6 290.9,257.5 293.2,261.2 295.4,263.9 297.7,267.1 300,268.9 302.2,267.6 304.5,266.3 306.8,265.7 309,265.2 311.3,264.6 313.6,263.1 315.8,262.8 318.1,262.7 320.4,262.2 322.7,262.7 324.9,262.3 327.2,259.7 329.5,258 331.7,256.1 334,256 336.3,257.8 338.5,259.2 340.8,261.8 343.1,265.2 345.4,267.7 347.6,271.1 349.9,273.9 352.2,276.2 354.4,280.7 356.7,283.4 359,282 361.2,276.8 363.5,274.2 365.8,273 368,271.7 370.3,270.2 372.6,269.9 374.9,269.6 377.1,268.6 379.4,266.6 381.7,265.9 383.9,264.6 386.2,263.1 388.5,262.3 390.7,263 393,264.7 395.3,266.8 397.6,268 399.8,270.1 402.1,272.9 404.4,275.2 406.6,277.2 408.9,278.3 411.2,279.9 413.4,280.2 415.7,278.9 418,277.5 420.2,277.7 422.5,278.8 424.8,279.9 427.1,279.8 429.3,278.2 431.6,276.9 433.9,276.5 436.1,275.1 438.4,273.2 440.7,272.5 442.9,271.8 445.2,271 447.5,271.1 449.8,270 452,270.4 454.3,272.4 456.6,274.8 458.8,277.8 461.1,279 463.4,281.3 465.6,281.8 467.9,282.9 470.2,283.3 472.4,282 474.7,280.4 477,279.8 479.3,279.4 481.5,279.5 483.8,276.4 486.1,273.3 488.3,270.1 490.6,267.3 492.9,264.9 495.1,264.7 497.4,265.7 499.7,267.1 502,269.4 504.2,271.1 506.5,273.1 508.8,274.5 511,276.3 513.3,278.2 515.6,278.7 517.8,279.9 520.1,280.7 522.4,281.4 524.7,280.8 526.9,281.5 529.2,281.5 531.5,280.9 533.7,279.1 536,277.4 538.3,276.4 540.5,275.6 542.8,274.1 545.1,273.3 547.3,271.4 549.6,269.9 551.9,270.5 554.2,270.6 556.4,272.6 558.7,273.4 561,274.5 563.2,276.1 565.5,277.4 567.8,279.2 570,280.5 572.3,282.1 574.6,282.3 576.9,283.5 579.1,283.2 581.4,282.9 583.7,280.9 585.9,279.8 588.2,278.3 590.5,276.5 592.7,274.3 595,272.9 597.3,270.3 599.5,269.4 601.8,267.5 604.1,266.1 606.4,266.6 608.6,267.4 610.9,267.8 613.2,269 615.4,269.1 617.7,270.4 620,271.9 622.2,272.8 624.5,275.1 626.5,276.2" fill="none" stroke="#00ee00" stroke-width="0.9"/>
<polyline points="68.5,230.7 70.7,239.8 73,247.5 75.3,254.8 77.5,261.5 79.8,266.2 82.1,269.5 84.3,271.4 86.6,271.3 88.9,268.1 91.2,264 93.4,258.4 95.7,253 98,248.5 100.2,246 102.5,245.1 104.8,243.1 107,242.2 109.3,241.5 111.6,239.4 113.9,240.5 116.1,243 118.4,245.3 120.7,250.5 122.9,256.1 125.2,261.3 127.5,267.4 129.7,272.4 132,276.7 134.3,279.8 136.5,281.9 138.8,284.1 141.1,284.7 143.4,284.4 145.6,283.5 147.9,283.5 150.2,283.2 152.4,282.4 154.7,282 157,279.1 159.2,274.8 161.5,271.3 163.8,268.6 166.1,265.9 168.3,264.1 170.6,263.5 172.9,264.3 175.1,267.2 177.4,269.5 179.7,274.9 181.9,279.7 184.2,284.3 186.5,289.1 188.7,293.4 191,298.1 193.3,300.2 195.6,299.3 197.8,297.9 200.1,295.1 202.4,291.7 204.6,288 206.9,283 209.2,277.1 211.4,272.1 213.7,267.6 216,262.3 218.3,258.6 220.5,254.7 222.8,251.3 225.1,248.1 227.3,246.6 229.6,244.4 231.9,244.7 234.1,246.7 236.4,248.9 238.7,250.8 241,252.3 243.2,253 245.5,253 247.8,252.9 250,252.1 252.3,249.5 254.6,247.6 256.8,246.8 259.1,246.5 261.4,246.5 263.6,246.7 265.9,246.9 268.2,246.4 270.5,246 272.7,246.2 275,246.4 277.3,246.9 279.5,250.4 281.8,252.3 284.1,255.5 286.3,258.9 288.6,262.3 290.9,265.2 293.2,268.9 295.4,271.6 297.7,274.8 300,276.6 302.2,275.4 304.5,274 306.8,273.5 309,273 311.3,272.4 313.6,270.9 315.8,270.7 318.1,270.6 320.4,270.1 322.7,270.6 324.9,270.3 327.2,267.7 329.5,265.9 331.7,264.1 334,264 336.3,265.9 338.5,267.3 340.8,270 343.1,273.5 345.4,276 347.6,279.5 349.9,282.4 352.2,284.7 354.4,289.2 356.7,292.1 359,290.7 361.2,285.6 363.5,283 365.8,281.9 368,280.7 370.3,279.2 372.6,279 374.9,278.7 377.1,277.8 379.4,275.8 381.7,275.2 383.9,274 386.2,272.6 388.5,271.8 390.7,272.5 393,274.1 395.3,276.1 397.6,277.3 399.8,279.4 402.1,282.1 404.4,284.3 406.6,286.2 408.9,287.3 411.2,288.8 413.4,289.1 415.7,287.8 418,286.3 420.2,286.4 422.5,287.4 424.8,288.5 427.1,288.4 429.3,286.7 431.6,285.4 433.9,284.9 436.1,283.4 438.4,281.5 440.7,280.7 442.9,279.9 445.2,279.2 447.5,279.1 449.8,278 452,278.7 454.3,281.1 456.6,283.8 458.8,287.1 461.1,288.6 463.4,291.3 465.6,292.1 467.9,293.6 470.2,294.3 472.4,293.2 474.7,291.8 477,291.2 479.3,291 481.5,291.3 483.8,288.3 486.1,285.4 488.3,282.3 490.6,279.7 492.9,277.5 495.1,277.4 497.4,278.4 499.7,279.7 502,282 504.2,283.6 506.5,285.5 508.8,286.9 511,288.7 513.3,290.6 515.6,291.1 517.8,292.2 520.1,293 522.4,293.6 524.7,292.9 526.9,293.6 529.2,293.6 531.5,292.9 533.7,291.1 536,289.3 538.3,288.3 540.5,287.5 542.8,286 545.1,285.1 547.3,283.1 549.6,281.6 551.9,282.2 554.2,282.3 556.4,284.3 558.7,285.1 561,286.2 563.2,287.8 565.5,289.1 567.8,290.9 570,292.2 572.3,293.8 574.6,294 576.9,295.2 579.1,294.9 581.4,294.9 583.7,293.4 585.9,292.8 588.2,291.8 590.5,290.5 592.7,288.8 595,287.9 597.3,285.9 599.5,285.4 601.8,284 604.1,283.1 606.4,283.5 608.6,284.3 610.9,284.6 613.2,285.8 615.4,285.8 617.7,287.1 620,288.5 622.2,289.4 624.5,291.6 626.5,292.7" fill="none" stroke="#00ff00" stroke-width="1.6" stroke-linejoin="round"/>
<polyline points="68.5,230.7 69.6,233.9 70.7,237.1 71.9,240 73,242.6 74.1,244.8 75.3,246.6 76.4,248 77.5,249.4 78.7,250.7 79.8,251.8 80.9,252.6 82.1,253.2 83.2,253.3 84.3,252.2 85.5,246.5 86.6,238.5 87.8,230.3 88.9,220.3 90,209 91.2,197 92.3,184.5 93.4,170.3 94.6,155.5 95.7,141.4 96.8,129.6 98,118.7 99.1,108.5 100.2,99.9 101.4,93.6 102.5,88.6 103.6,84 104.8,80.7 105.9,79.2 107,81.7 108.2,87.9 109.3,94.5 110.4,101.6 111.6,109.7 112.7,117.9 113.9,125.4 115,132.1 116.1,138.3 117.3,144.3 118.4,150.2 119.5,155.9 120.7,161.4 121.8,166.8 122.9,172 124.1,176.9 125.2,181.7 126.3,186.4 127.5,190.8 128.6,195.2 129.7,199.7 130.9,204.1 132,208.3 133.1,211.9 134.3,215 135.4,218.2 136.5,220.9 137.7,222.7 138.8,222.7 140,219.4 141.1,214 142.2,207.6 143.4,197.5 144.5,184.8 145.6,171.7 146.8,158.6 147.9,144.6 149,130.3 150.2,116.6 151.3,103.2 152.4,89.3 153.6,76.4 154.7,65.8 155.8,58.3 157,51.5 158.1,46 159.2,43 160.4,44 161.5,49.2 162.6,56.2 163.8,63.6 164.9,73.1 166.1,83.8 167.2,94.4 168.3,103.7 169.5,112.4 170.6,120.8 171.7,128.8 172.9,136.4 174,143.6 175.1,150.4 176.3,157 177.4,163.4 178.5,169.7 179.7,175.8 180.8,181.8 181.9,187.5 183.1,193.2 184.2,198.7 185.3,204 186.5,208.9 187.6,213.3 188.7,217.4 189.9,221 191,223.9 192.2,226.6 193.3,227.8 194.4,226.3 195.6,223.3 196.7,217.5 197.8,206.6 199,193.8 200.1,181.9 201.2,169.4 202.4,156.5 203.5,144.2 204.6,133.1 205.8,122.4 206.9,112.1 208,103.3 209.2,97 210.3,92 211.4,87.6 212.6,84.4 213.7,82.9 214.8,84 216,87.3 217.1,91.8 218.3,97 219.4,104.7 220.5,113.6 221.7,122.1 222.8,129.5 223.9,136.7 225.1,143.6 226.2,150 227.3,156.1 228.5,162 229.6,167.5 230.7,172.4 231.9,176.5 233,180.2 234.1,183.6 235.3,186.7 236.4,189.6 237.5,192.3 238.7,194.7 239.8,197.1 241,199.2 242.1,201.2 243.2,203 244.4,204.6 245.5,206.3 246.6,207.8 247.8,209.2 248.9,210.1 250,210.2 251.2,208.2 252.3,204.9 253.4,201.2 254.6,196.8 255.7,191.3 256.8,185.2 258,179.5 259.1,174.3 260.2,168.9 261.4,163.9 262.5,159.9 263.6,157.3 264.8,155 265.9,153 267.1,151.6 268.2,150.8 269.3,151.4 270.5,153.2 271.6,155.9 272.7,159.2 273.9,165.8 275,172.8 276.1,178.7 277.3,184.4 278.4,189.7 279.5,194.3 280.7,198.4 281.8,202.2 282.9,205.6 284.1,208.9 285.2,212.2 286.3,215.4 287.5,218.7 288.6,222 289.7,225.1 290.9,227.9 292,230.3 293.2,232.2 294.3,234 295.4,235.6 296.6,237 297.7,238.4 298.8,239.5 300,240.8 301.1,241.9 302.2,242.9 303.4,243.5 304.5,242.4 305.6,236.5 306.8,229.6 307.9,222.5 309,214.7 310.2,206.4 311.3,198.2 312.4,189.4 313.6,180 314.7,171.2 315.8,163.7 317,157.7 318.1,152.2 319.3,147.4 320.4,143.9 321.5,141.4 322.7,139.4 323.8,138.3 324.9,139.5 326.1,142.7 327.2,146.4 328.3,150.9 329.5,156.5 330.6,162.6 331.7,168.4 332.9,174 334,179.6 335.1,185.1 336.3,190.4 337.4,195.5 338.5,200.4 339.7,205.2 340.8,209.7 341.9,213.8 343.1,217.7 344.2,221.4 345.4,224.9 346.5,228.2 347.6,231.5 348.8,234.6 349.9,237.6 351,240.4 352.2,242.9 353.3,245.3 354.4,247.8 355.6,250 356.7,251.3 357.8,250.4 359,244.7 360.1,237.1 361.2,229.3 362.4,220 363.5,209.9 364.6,199.7 365.8,190 366.9,179.9 368,169.9 369.2,160.7 370.3,152.6 371.5,144.9 372.6,138 373.7,132.7 374.9,129.1 376,126 377.1,123.8 378.3,123.3 379.4,125.6 380.5,129.4 381.7,133.6 382.8,138.8 383.9,145.4 385.1,152.2 386.2,158.2 387.3,163.8 388.5,169.3 389.6,174.5 390.7,179.5 391.9,184.5 393,189.2 394.1,193.8 395.3,198 396.4,201.9 397.6,205.6 398.7,209.1 399.8,212.5 401,215.7 402.1,218.7 403.2,221.6 404.4,224.4 405.5,227 406.6,229.5 407.8,231.8 408.9,234.3 410,236.8 411.2,239.1 412.3,240.4 413.4,239.5 414.6,234.8 415.7,228.5 416.8,221.2 418,211.4 419.1,200.3 420.2,189.2 421.4,178.9 422.5,168 423.7,157.3 424.8,147.8 425.9,140.4 427.1,133.7 428.2,127.7 429.3,123 430.5,119.9 431.6,117.4 432.7,115.5 433.9,114.5 435,116.2 436.1,120.5 437.3,125.8 438.4,131.5 439.5,138.6 440.7,145.9 441.8,152.6 442.9,159 444.1,165.3 445.2,171.4 446.3,177.3 447.5,183.2 448.6,189 449.8,194.3 450.9,199.1 452,203.2 453.2,206.9 454.3,210.4 455.4,213.8 456.6,217.1 457.7,220.5 458.8,224.1 460,227.6 461.1,230.6 462.2,232.8 463.4,234.7 464.5,236.5 465.6,237.8 466.8,238.7 467.9,237.9 469,233.5 470.2,227.2 471.3,219.5 472.4,208.5 473.6,196.2 474.7,184.6 475.9,172.9 477,161.8 478.1,153.9 479.3,148.5 480.4,141.1 481.5,133 482.7,126.4 483.8,122.4 484.9,118.8 486.1,116 487.2,114.1 488.3,114.3 489.5,118.4 490.6,124.1 491.7,129.8 492.9,136.6 494,144 495.1,151 496.3,157.7 497.4,164.3 498.6,170.6 499.7,176.5 500.8,181.8 502,186.8 503.1,191.5 504.2,196 505.4,200.4 506.5,204.8 507.6,208.9 508.8,212.7 509.9,216.2 511,219.5 512.2,222.6 513.3,225.6 514.4,228.1 515.6,230.2 516.7,232 517.8,233.8 519,235.3 520.1,236.5 521.2,237.2 522.4,234.8 523.5,229.2 524.7,222.6 525.8,213.1 526.9,201.8 528.1,190.4 529.2,179.5 530.3,168.1 531.5,157 532.6,147.1 533.7,139 534.9,131.3 536,124.5 537.1,119 538.3,115.3 539.4,112.1 540.5,109.4 541.7,107.7 542.8,108.6 543.9,112.6 545.1,117.9 546.2,123.2 547.3,129.4 548.5,136.2 549.6,143 550.8,149.5 551.9,156 553,162.4 554.2,168.5 555.3,174.5 556.4,180.4 557.6,185.8 558.7,190.5 559.8,194.8 561,198.9 562.1,202.6 563.2,206.1 564.4,209.3 565.5,212.3 566.6,215.4 567.8,218.4 568.9,221.1 570,223.1 571.2,224.2 572.3,224.8 573.4,225.3 574.6,225.8 575.7,226.1 576.9,223.6 578,216.5 579.1,208.8 580.3,201.3 581.4,193.1 582.5,184.7 583.7,176.6 584.8,168.7 585.9,160.7 587.1,153.2 588.2,146.7 589.3,141.6 590.5,136.8 591.6,132.9 592.7,130.4 593.9,128.7 595,127.4 596.1,126.9 597.3,128.1 598.4,130.6 599.5,133.6 600.7,137.5 601.8,143 603,148.8 604.1,154.7 605.2,161 606.4,167.3 607.5,173.3 608.6,179 609.8,184.7 610.9,190.1 612,195 613.2,199.5 614.3,203.7 615.4,207.6 616.6,211.1 617.7,214.2 618.8,216.9 620,219.5 621.1,221.6 622.2,223.3 623.4,224.7 624.5,225.9 625.6,226.9 626.5,227.7" fill="none" stroke="#ff0000" stroke-width="0.9"/>
<polyline points="68.5,230.7 69.6,234.3 70.7,237.9 71.9,241.2 73,244.1 74.1,246.8 75.3,249 76.4,250.8 77.5,252.6 78.7,254.2 79.8,255.8 80.9,257 82.1,258 83.2,258.5 84.3,257.7 85.5,252.2 86.6,244.4 87.8,236.3 88.9,226.5 90,215.4 91.2,203.6 92.3,191.3 93.4,177.3 94.6,162.6 95.7,148.8 96.8,137.1 98,126.4 99.1,116.4 100.2,107.9 101.4,101.9 102.5,97 103.6,92.7 104.8,89.5 105.9,88.2 107,90.6 108.2,96.7 109.3,103.3 110.4,110.3 111.6,118.2 112.7,126.3 113.9,133.8 115,140.3 116.1,146.5 117.3,152.4 118.4,158.1 119.5,163.7 120.7,169.2 121.8,174.5 122.9,179.6 124.1,184.4 125.2,189.1 126.3,193.7 127.5,198 128.6,202.3 129.7,206.7 130.9,211.1 132,215.1 133.1,218.6 134.3,221.7 135.4,224.7 136.5,227.4 137.7,229.1 138.8,229 140,225.9 141.1,220.6 142.2,214.3 143.4,204.4 144.5,191.8 145.6,178.8 146.8,165.8 147.9,151.9 149,137.8 150.2,124.2 151.3,110.9 152.4,97.2 153.6,84.3 154.7,73.9 155.8,66.5 157,59.8 158.1,54.4 159.2,51.6 160.4,52.7 161.5,57.8 162.6,64.9 163.8,72.3 164.9,81.8 166.1,92.6 167.2,103.2 168.3,112.6 169.5,121.3 170.6,129.7 171.7,137.8 172.9,145.4 174,152.6 175.1,159.4 176.3,166 177.4,172.5 178.5,178.8 179.7,185 180.8,190.9 181.9,196.7 183.1,202.4 184.2,208 185.3,213.3 186.5,218.2 187.6,222.6 188.7,226.8 189.9,230.4 191,233.3 192.2,236.1 193.3,237.3 194.4,236 195.6,233.1 196.7,227.4 197.8,216.6 199,204 200.1,192.3 201.2,179.9 202.4,167.2 203.5,154.9 204.6,144 205.8,133.4 206.9,123.3 208,114.6 209.2,108.4 210.3,103.6 211.4,99.4 212.6,96.2 213.7,94.9 214.8,95.9 216,99.2 217.1,103.5 218.3,108.6 219.4,116.2 220.5,125.1 221.7,133.4 222.8,140.7 223.9,147.8 225.1,154.6 226.2,161 227.3,166.9 228.5,172.7 229.6,178.1 230.7,182.9 231.9,186.9 233,190.6 234.1,193.9 235.3,196.9 236.4,199.7 237.5,202.2 238.7,204.6 239.8,206.8 241,208.9 242.1,210.8 243.2,212.5 244.4,214 245.5,215.5 246.6,217 247.8,218.2 248.9,219 250,219.1 251.2,217.3 252.3,214.1 253.4,210.5 254.6,206.3 255.7,200.8 256.8,194.9 258,189.4 259.1,184.3 260.2,179 261.4,174.1 262.5,170.3 263.6,167.8 264.8,165.6 265.9,163.8 267.1,162.4 268.2,161.8 269.3,162.3 270.5,164 271.6,166.5 272.7,169.8 273.9,176.2 275,183 276.1,188.8 277.3,194.4 278.4,199.5 279.5,204 280.7,208 281.8,211.6 282.9,215 284.1,218.1 285.2,221.2 286.3,224.3 287.5,227.5 288.6,230.7 289.7,233.6 290.9,236.3 292,238.5 293.2,240.4 294.3,242 295.4,243.5 296.6,244.8 297.7,246 298.8,247.1 300,248.1 301.1,249.2 302.2,250 303.4,250.5 304.5,249.7 305.6,243.9 306.8,237.3 307.9,230.4 309,222.7 310.2,214.7 311.3,206.6 312.4,198 313.6,188.9 314.7,180.3 315.8,173 317,167.2 318.1,161.9 319.3,157.4 320.4,154 321.5,151.8 322.7,150 323.8,149.1 324.9,150.2 326.1,153.2 327.2,156.7 328.3,161 329.5,166.5 330.6,172.3 331.7,178 332.9,183.4 334,188.8 335.1,194.2 336.3,199.3 337.4,204.2 338.5,209 339.7,213.6 340.8,217.9 341.9,221.8 343.1,225.5 344.2,229 345.4,232.4 346.5,235.6 347.6,238.6 348.8,241.6 349.9,244.4 351,247 352.2,249.4 353.3,251.6 354.4,253.9 355.6,255.9 356.7,257.1 357.8,256.4 359,251.1 360.1,243.9 361.2,236.5 362.4,227.7 363.5,218 364.6,208.2 365.8,198.9 366.9,189.3 368,179.8 369.2,171 370.3,163.3 371.5,156.1 372.6,149.6 373.7,144.7 374.9,141.5 376,138.8 377.1,137.1 378.3,136.9 379.4,139.1 380.5,142.8 381.7,146.9 382.8,152 383.9,158.5 385.1,165.3 386.2,171.2 387.3,176.7 388.5,182.1 389.6,187.2 390.7,192.2 391.9,197 393,201.7 394.1,206.2 395.3,210.3 396.4,214.1 397.6,217.7 398.7,221.2 399.8,224.5 401,227.6 402.1,230.5 403.2,233.3 404.4,236 405.5,238.5 406.6,241 407.8,243.2 408.9,245.5 410,248 411.2,250.2 412.3,251.4 413.4,250.6 414.6,246.1 415.7,240 416.8,232.8 418,223.2 419.1,212.3 420.2,201.4 421.4,191.2 422.5,180.5 423.7,170 424.8,160.7 425.9,153.4 427.1,146.9 428.2,141.1 429.3,136.6 430.5,133.6 431.6,131.3 432.7,129.6 433.9,128.8 435,130.3 436.1,134.5 437.3,139.6 438.4,145.1 439.5,152 440.7,159.1 441.8,165.6 442.9,171.9 444.1,178 445.2,183.9 446.3,189.6 447.5,195.3 448.6,200.9 449.8,206.1 450.9,210.6 452,214.6 453.2,218.1 454.3,221.4 455.4,224.6 456.6,227.7 457.7,230.9 458.8,234.4 460,237.7 461.1,240.5 462.2,242.5 463.4,244.3 464.5,245.8 465.6,247 466.8,247.7 467.9,247.1 469,243.1 470.2,237.3 471.3,230 472.4,219.5 473.6,207.6 474.7,196.5 475.9,185.3 477,174.7 478.1,167.3 479.3,162.3 480.4,155.3 481.5,147.7 482.7,141.7 483.8,138.1 484.9,135 486.1,132.6 487.2,131.2 488.3,131.6 489.5,135.4 490.6,140.8 491.7,146.2 492.9,152.7 494,159.8 495.1,166.5 496.3,172.9 497.4,179.2 498.6,185.3 499.7,190.8 500.8,195.8 502,200.5 503.1,204.9 504.2,209.1 505.4,213.3 506.5,217.3 507.6,221.1 508.8,224.7 509.9,227.8 511,230.8 512.2,233.7 513.3,236.3 514.4,238.6 515.6,240.4 516.7,241.9 517.8,243.3 519,244.6 520.1,245.5 521.2,245.8 522.4,244 523.5,239.2 524.7,233.3 525.8,224.6 526.9,214 528.1,203.3 529.2,193.2 530.3,182.5 531.5,172.2 532.6,163 533.7,155.6 534.9,148.7 536,142.6 537.1,137.9 538.3,134.8 539.4,132.4 540.5,130.5 541.7,129.5 542.8,130.4 543.9,134.1 545.1,139 546.2,144 547.3,149.9 548.5,156.4 549.6,162.9 550.8,169.1 551.9,175.3 553,181.4 554.2,187.2 555.3,192.9 556.4,198.4 557.6,203.5 558.7,208 559.8,212 561,215.7 562.1,219.1 563.2,222.2 564.4,225.1 565.5,227.8 566.6,230.7 567.8,233.4 568.9,235.7 570,237.4 571.2,238.2 572.3,238.5 573.4,238.7 574.6,238.8 575.7,238.9 576.9,236.7 578,230.1 579.1,222.8 580.3,215.8 581.4,208.1 582.5,200.1 583.7,192.5 584.8,185.1 585.9,177.6 587.1,170.5 588.2,164.5 589.3,159.8 590.5,155.6 591.6,152.1 592.7,150 593.9,148.9 595,148.1 596.1,147.9 597.3,149.1 598.4,151.4 599.5,154.4 600.7,158.2 601.8,163.7 603,169.4 604.1,175.3 605.2,181.5 606.4,187.7 607.5,193.7 608.6,199.4 609.8,205 610.9,210.3 612,215.2 613.2,219.6 614.3,223.8 615.4,227.6 616.6,231 617.7,233.9 618.8,236.5 620,238.9 621.1,240.9 622.2,242.4 623.4,243.7 624.5,244.7 625.6,245.6 626.5,246.3" fill="none" stroke="#ff0000" stroke-width="1.75" stroke-linejoin="round"/>
</g>
<rect x="68.5" y="24.5" width="558.0" height="286.9" fill="none" stroke="#222" stroke-width="1.1"/>
<g clip-path="url(#c2)">
<rect x="68.5" y="313.6" width="4.5" height="142.8" fill="#f2f2f2"/><rect x="127.5" y="313.6" width="54.5" height="142.8" fill="#f2f2f2"/><rect x="236.4" y="313.6" width="54.5" height="142.8" fill="#f2f2f2"/><rect x="345.4" y="313.6" width="54.5" height="142.8" fill="#f2f2f2"/><rect x="454.3" y="313.6" width="54.5" height="142.8" fill="#f2f2f2"/><rect x="563.2" y="313.6" width="54.5" height="142.8" fill="#f2f2f2"/>
<line x1="68.5" y1="432.35" x2="626.5" y2="432.35" stroke="#b0b0b0" stroke-dasharray="3 3" stroke-linecap="round"/><line x1="68.5" y1="408.6" x2="626.5" y2="408.6" stroke="#b0b0b0" stroke-dasharray="3 3" stroke-linecap="round"/><line x1="68.5" y1="384.85" x2="626.5" y2="384.85" stroke="#b0b0b0" stroke-dasharray="3 3" stroke-linecap="round"/><line x1="68.5" y1="361.1" x2="626.5" y2="361.1" stroke="#b0b0b0" stroke-dasharray="3 3" stroke-linecap="round"/><line x1="68.5" y1="337.35" x2="626.5" y2="337.35" stroke="#b0b0b0" stroke-dasharray="3 3" stroke-linecap="round"/>
<line x1="73" y1="456.4" x2="73" y2="313.6" stroke="#7e7e7e" stroke-dasharray="3 3" stroke-linecap="round"/><line x1="127.47" y1="456.4" x2="127.47" y2="313.6" stroke="#7e7e7e" stroke-dasharray="3 3" stroke-linecap="round"/><line x1="181.94" y1="456.4" x2="181.94" y2="313.6" stroke="#7e7e7e" stroke-dasharray="3 3" stroke-linecap="round"/><line x1="236.41" y1="456.4" x2="236.41" y2="313.6" stroke="#7e7e7e" stroke-dasharray="3 3" stroke-linecap="round"/><line x1="290.88" y1="456.4" x2="290.88" y2="313.6" stroke="#7e7e7e" stroke-dasharray="3 3" stroke-linecap="round"/><line x1="345.35" y1="456.4" x2="345.35" y2="313.6" stroke="#7e7e7e" stroke-dasharray="3 3" stroke-linecap="round"/><line x1="399.82" y1="456.4" x2="399.82" y2="313.6" stroke="#7e7e7e" stroke-dasharray="3 3" stroke-linecap="round"/><line x1="454.29" y1="456.4" x2="454.29" y2="313.6" stroke="#7e7e7e" stroke-dasharray="3 3" stroke-linecap="round"/><line x1="508.76" y1="456.4" x2="508.76" y2="313.6" stroke="#7e7e7e" stroke-dasharray="3 3" stroke-linecap="round"/><line x1="563.23" y1="456.4" x2="563.23" y2="313.6" stroke="#7e7e7e" stroke-dasharray="3 3" stroke-linecap="round"/><line x1="617.7" y1="456.4" x2="617.7" y2="313.6" stroke="#7e7e7e" stroke-dasharray="3 3" stroke-linecap="round"/><line x1="100.24" y1="456.4" x2="100.24" y2="313.6" stroke="#c8c8c8" stroke-dasharray="3 3" stroke-linecap="round"/><line x1="154.71" y1="456.4" x2="154.71" y2="313.6" stroke="#c8c8c8" stroke-dasharray="3 3" stroke-linecap="round"/><line x1="209.18" y1="456.4" x2="209.18" y2="313.6" stroke="#c8c8c8" stroke-dasharray="3 3" stroke-linecap="round"/><line x1="263.65" y1="456.4" x2="263.65" y2="313.6" stroke="#c8c8c8" stroke-dasharray="3 3" stroke-linecap="round"/><line x1="318.12" y1="456.4" x2="318.12" y2="313.6" stroke="#c8c8c8" stroke-dasharray="3 3" stroke-linecap="round"/><line x1="372.59" y1="456.4" x2="372.59" y2="313.6" stroke="#c8c8c8" stroke-dasharray="3 3" stroke-linecap="round"/><line x1="427.06" y1="456.4" x2="427.06" y2="313.6" stroke="#c8c8c8" stroke-dasharray="3 3" stroke-linecap="round"/><line x1="481.53" y1="456.4" x2="481.53" y2="313.6" stroke="#c8c8c8" stroke-dasharray="3 3" stroke-linecap="round"/><line x1="536" y1="456.4" x2="536" y2="313.6" stroke="#c8c8c8" stroke-dasharray="3 3" stroke-linecap="round"/><line x1="590.47" y1="456.4" x2="590.47" y2="313.6" stroke="#c8c8c8" stroke-dasharray="3 3" stroke-linecap="round"/>
<polygon points="68.5,331.2 70.7,332.8 73,332.5 75.3,330.9 77.5,329.3 79.8,330.5 82.1,336 84.3,348.8 86.6,364.7 88.9,376 91.2,380.5 93.4,380.5 95.7,380.3 98,380.7 100.2,378.3 102.5,376.3 104.8,374.9 107,372.1 109.3,369.1 111.6,374.7 113.9,385.5 116.1,391.3 118.4,398.1 120.7,405.7 122.9,411.7 125.2,416.2 127.5,417.7 129.7,416.6 132,416.3 134.3,411.8 136.5,409.5 138.8,403.8 141.1,396.9 143.4,393.9 145.6,395.5 147.9,397.7 150.2,400.7 152.4,405.4 154.7,409.8 157,416.5 159.2,422.2 161.5,425.8 163.8,428.7 166.1,431 168.3,432.6 170.6,430.7 172.9,427.7 175.1,426 177.4,422.7 179.7,423.2 181.9,423.6 184.2,419.5 186.5,418.2 188.7,417 191,416.8 193.3,417 195.6,417.1 197.8,414.5 200.1,412.7 202.4,410.7 204.6,408.6 206.9,405.7 209.2,402.6 211.4,399.5 213.7,397.5 216,395.7 218.3,393.2 220.5,386.4 222.8,373 225.1,370.6 227.3,366.6 229.6,361.1 231.9,354.1 234.1,343.6 236.4,334.2 238.7,328.1 241,324.4 243.2,320 245.5,317.7 247.8,315.6 250,314.8 252.3,316 254.6,316.7 256.8,319.5 259.1,321.5 261.4,323 263.6,324.4 265.9,323.2 268.2,322.6 270.5,320.3 272.7,320 275,320.1 277.3,322.1 279.5,326.5 281.8,332.3 284.1,338.9 286.3,344 288.6,346.2 290.9,348.7 293.2,349.9 295.4,349.7 297.7,350.1 300,349.6 302.2,349.5 304.5,348.7 306.8,351.7 309,354.9 311.3,357.9 313.6,360.3 315.8,366.7 318.1,372.4 320.4,371.9 322.7,370.6 324.9,370.4 327.2,371.6 329.5,372.5 331.7,372.1 334,371.6 336.3,370.3 338.5,371.4 340.8,373 343.1,375.2 345.4,376.4 347.6,379.2 349.9,382.1 352.2,383.6 354.4,383 356.7,381.9 359,380.8 361.2,380.4 363.5,380.6 365.8,379.6 368,379.9 370.3,379.8 372.6,379.3 374.9,379.4 377.1,379.8 379.4,378.9 381.7,378 383.9,377.2 386.2,376.4 388.5,377.7 390.7,379.3 393,380.1 395.3,379 397.6,376.1 399.8,373.8 402.1,371.2 404.4,370.5 406.6,367.2 408.9,363.6 411.2,361.9 413.4,363.4 415.7,366 418,369.3 420.2,371.1 422.5,374 424.8,377.6 427.1,377.4 429.3,378.4 431.6,378.4 433.9,377.8 436.1,376.5 438.4,376.1 440.7,377.3 442.9,378.8 445.2,378.6 447.5,376.1 449.8,374.2 452,374.4 454.3,374.4 456.6,373.9 458.8,376.5 461.1,376.9 463.4,376.3 465.6,373.7 467.9,370.1 470.2,373.4 472.4,374.9 474.7,375 477,376.7 479.3,376.7 481.5,377.4 483.8,378.2 486.1,379.3 488.3,379.2 490.6,372.3 492.9,364.9 495.1,364.2 497.4,365.4 499.7,373.2 502,380.8 504.2,386.5 506.5,380.7 508.8,377.1 511,373.9 513.3,372.4 515.6,371.5 517.8,371 520.1,370.4 522.4,372.3 524.7,374.3 526.9,374.9 529.2,374.1 531.5,373.3 533.7,372.7 536,371.9 538.3,371.8 540.5,371 542.8,370.4 545.1,371.8 547.3,375 549.6,379.1 551.9,376.4 554.2,374.2 556.4,379.4 558.7,376.8 561,375.5 563.2,367.5 565.5,362.6 567.8,363 570,366.4 572.3,367.2 574.6,363.6 576.9,360.3 579.1,360.3 581.4,363.1 583.7,364.6 585.9,364.9 588.2,363.6 590.5,363.4 592.7,364.9 595,365.7 597.3,366.9 599.5,363.9 601.8,356.5 604.1,356.8 606.4,358.1 608.6,357.6 610.9,357.1 613.2,357.3 615.4,361.8 617.7,361.9 620,361.3 622.2,360.3 624.5,360.2 626.5,359.2 626.5,456.4 68.5,456.4" fill="rgba(0,0,0,0.105)"/>
<polygon points="68.5,337.1 70.7,343.7 73,348.3 75.3,348.5 77.5,349.2 79.8,351.6 82.1,355.1 84.3,364.2 86.6,373.1 88.9,379.7 91.2,380.8 93.4,383.5 95.7,384.4 98,386 100.2,387.3 102.5,388.3 104.8,389 107,390.2 109.3,391.6 111.6,395.3 113.9,402.1 116.1,406.5 118.4,412.9 120.7,419.9 122.9,425.8 125.2,430 127.5,431.6 129.7,430.9 132,431.5 134.3,430.4 136.5,427.9 138.8,426.2 141.1,427.1 143.4,428.5 145.6,430.3 147.9,431.4 150.2,433.5 152.4,435.6 154.7,438.3 157,440.9 159.2,442.3 161.5,443.1 163.8,444.2 166.1,445.3 168.3,445.7 170.6,445.7 172.9,444.5 175.1,443.2 177.4,441.6 179.7,439.5 181.9,438.5 184.2,436.1 186.5,433.4 188.7,430.7 191,431.3 193.3,430.8 195.6,429.9 197.8,427.9 200.1,425.7 202.4,423.4 204.6,421.1 206.9,417.4 209.2,413.6 211.4,410.3 213.7,407.1 216,404.8 218.3,402 220.5,394.6 222.8,382.1 225.1,380.3 227.3,376.6 229.6,372.4 231.9,365.6 234.1,356.9 236.4,349.8 238.7,343.7 241,338.8 243.2,334.1 245.5,330.7 247.8,327.1 250,325.7 252.3,324.2 254.6,324.8 256.8,329.4 259.1,332.7 261.4,334.5 263.6,334.5 265.9,335.6 268.2,336.1 270.5,336.2 272.7,338.1 275,341.3 277.3,344.7 279.5,347.5 281.8,350.3 284.1,356.4 286.3,353.9 288.6,348 290.9,348.7 293.2,349.9 295.4,350.7 297.7,350.9 300,350 302.2,349.5 304.5,349.1 306.8,352.3 309,355.8 311.3,358.7 313.6,362.8 315.8,368.6 318.1,375.4 320.4,376.6 322.7,376.1 324.9,376.9 327.2,377.6 329.5,378.9 331.7,378.8 334,377.7 336.3,376.1 338.5,378.3 340.8,381.2 343.1,384.4 345.4,386.5 347.6,391.6 349.9,392.4 352.2,391.3 354.4,390.1 356.7,389.1 359,386.6 361.2,383.3 363.5,383.6 365.8,383.3 368,384 370.3,383.3 372.6,383.7 374.9,384.3 377.1,384 379.4,384.6 381.7,384.5 383.9,384 386.2,383.4 388.5,383.3 390.7,383.7 393,384.3 395.3,383.9 397.6,382.4 399.8,381.4 402.1,378.6 404.4,375.6 406.6,373.9 408.9,373 411.2,373 413.4,373.4 415.7,372.6 418,373.1 420.2,374.5 422.5,377 424.8,378.5 427.1,378.1 429.3,379.5 431.6,379.5 433.9,379.5 436.1,380.9 438.4,381.8 440.7,383.9 442.9,384.9 445.2,384.9 447.5,383.5 449.8,381.5 452,381.8 454.3,382.4 456.6,382.8 458.8,383.9 461.1,383.3 463.4,383.5 465.6,384 467.9,384.8 470.2,385.5 472.4,387.7 474.7,390.1 477,392.3 479.3,394 481.5,395.4 483.8,396.9 486.1,397.5 488.3,398.2 490.6,398.2 492.9,393.6 495.1,391.2 497.4,393.5 499.7,400.8 502,402.5 504.2,401.9 506.5,400.8 508.8,400.3 511,398.4 513.3,395.4 515.6,393.8 517.8,390.4 520.1,386 522.4,386.6 524.7,387 526.9,386.4 529.2,386 531.5,384.7 533.7,384.3 536,383.7 538.3,384.2 540.5,383.2 542.8,383.3 545.1,382.8 547.3,382.7 549.6,381.3 551.9,381.2 554.2,382.6 556.4,385.3 558.7,384.8 561,382.7 563.2,379.8 565.5,381.4 567.8,380.6 570,377.8 572.3,377.7 574.6,373.7 576.9,370.7 579.1,370.6 581.4,370.3 583.7,372.9 585.9,372.8 588.2,372.5 590.5,372.8 592.7,373.9 595,375.6 597.3,375.7 599.5,374.2 601.8,365.9 604.1,365.5 606.4,366.5 608.6,365.4 610.9,365.2 613.2,365.6 615.4,366.4 617.7,366.5 620,366.5 622.2,366.6 624.5,366.5 626.5,366.3 626.5,456.4 68.5,456.4" fill="rgba(0,0,0,0.12)"/>
<polyline points="68.5,331.2 70.7,332.8 73,332.5 75.3,330.9 77.5,329.3 79.8,330.5 82.1,336 84.3,348.8 86.6,364.7 88.9,376 91.2,380.5 93.4,380.5 95.7,380.3 98,380.7 100.2,378.3 102.5,376.3 104.8,374.9 107,372.1 109.3,369.1 111.6,374.7 113.9,385.5 116.1,391.3 118.4,398.1 120.7,405.7 122.9,411.7 125.2,416.2 127.5,417.7 129.7,416.6 132,416.3 134.3,411.8 136.5,409.5 138.8,403.8 141.1,396.9 143.4,393.9 145.6,395.5 147.9,397.7 150.2,400.7 152.4,405.4 154.7,409.8 157,416.5 159.2,422.2 161.5,425.8 163.8,428.7 166.1,431 168.3,432.6 170.6,430.7 172.9,427.7 175.1,426 177.4,422.7 179.7,423.2 181.9,423.6 184.2,419.5 186.5,418.2 188.7,417 191,416.8 193.3,417 195.6,417.1 197.8,414.5 200.1,412.7 202.4,410.7 204.6,408.6 206.9,405.7 209.2,402.6 211.4,399.5 213.7,397.5 216,395.7 218.3,393.2 220.5,386.4 222.8,373 225.1,370.6 227.3,366.6 229.6,361.1 231.9,354.1 234.1,343.6 236.4,334.2 238.7,328.1 241,324.4 243.2,320 245.5,317.7 247.8,315.6 250,314.8 252.3,316 254.6,316.7 256.8,319.5 259.1,321.5 261.4,323 263.6,324.4 265.9,323.2 268.2,322.6 270.5,320.3 272.7,320 275,320.1 277.3,322.1 279.5,326.5 281.8,332.3 284.1,338.9 286.3,344 288.6,346.2 290.9,348.7 293.2,349.9 295.4,349.7 297.7,350.1 300,349.6 302.2,349.5 304.5,348.7 306.8,351.7 309,354.9 311.3,357.9 313.6,360.3 315.8,366.7 318.1,372.4 320.4,371.9 322.7,370.6 324.9,370.4 327.2,371.6 329.5,372.5 331.7,372.1 334,371.6 336.3,370.3 338.5,371.4 340.8,373 343.1,375.2 345.4,376.4 347.6,379.2 349.9,382.1 352.2,383.6 354.4,383 356.7,381.9 359,380.8 361.2,380.4 363.5,380.6 365.8,379.6 368,379.9 370.3,379.8 372.6,379.3 374.9,379.4 377.1,379.8 379.4,378.9 381.7,378 383.9,377.2 386.2,376.4 388.5,377.7 390.7,379.3 393,380.1 395.3,379 397.6,376.1 399.8,373.8 402.1,371.2 404.4,370.5 406.6,367.2 408.9,363.6 411.2,361.9 413.4,363.4 415.7,366 418,369.3 420.2,371.1 422.5,374 424.8,377.6 427.1,377.4 429.3,378.4 431.6,378.4 433.9,377.8 436.1,376.5 438.4,376.1 440.7,377.3 442.9,378.8 445.2,378.6 447.5,376.1 449.8,374.2 452,374.4 454.3,374.4 456.6,373.9 458.8,376.5 461.1,376.9 463.4,376.3 465.6,373.7 467.9,370.1 470.2,373.4 472.4,374.9 474.7,375 477,376.7 479.3,376.7 481.5,377.4 483.8,378.2 486.1,379.3 488.3,379.2 490.6,372.3 492.9,364.9 495.1,364.2 497.4,365.4 499.7,373.2 502,380.8 504.2,386.5 506.5,380.7 508.8,377.1 511,373.9 513.3,372.4 515.6,371.5 517.8,371 520.1,370.4 522.4,372.3 524.7,374.3 526.9,374.9 529.2,374.1 531.5,373.3 533.7,372.7 536,371.9 538.3,371.8 540.5,371 542.8,370.4 545.1,371.8 547.3,375 549.6,379.1 551.9,376.4 554.2,374.2 556.4,379.4 558.7,376.8 561,375.5 563.2,367.5 565.5,362.6 567.8,363 570,366.4 572.3,367.2 574.6,363.6 576.9,360.3 579.1,360.3 581.4,363.1 583.7,364.6 585.9,364.9 588.2,363.6 590.5,363.4 592.7,364.9 595,365.7 597.3,366.9 599.5,363.9 601.8,356.5 604.1,356.8 606.4,358.1 608.6,357.6 610.9,357.1 613.2,357.3 615.4,361.8 617.7,361.9 620,361.3 622.2,360.3 624.5,360.2 626.5,359.2" fill="none" stroke="#333" stroke-width="0.9"/>
<polyline points="68.5,337.1 70.7,343.7 73,348.3 75.3,348.5 77.5,349.2 79.8,351.6 82.1,355.1 84.3,364.2 86.6,373.1 88.9,379.7 91.2,380.8 93.4,383.5 95.7,384.4 98,386 100.2,387.3 102.5,388.3 104.8,389 107,390.2 109.3,391.6 111.6,395.3 113.9,402.1 116.1,406.5 118.4,412.9 120.7,419.9 122.9,425.8 125.2,430 127.5,431.6 129.7,430.9 132,431.5 134.3,430.4 136.5,427.9 138.8,426.2 141.1,427.1 143.4,428.5 145.6,430.3 147.9,431.4 150.2,433.5 152.4,435.6 154.7,438.3 157,440.9 159.2,442.3 161.5,443.1 163.8,444.2 166.1,445.3 168.3,445.7 170.6,445.7 172.9,444.5 175.1,443.2 177.4,441.6 179.7,439.5 181.9,438.5 184.2,436.1 186.5,433.4 188.7,430.7 191,431.3 193.3,430.8 195.6,429.9 197.8,427.9 200.1,425.7 202.4,423.4 204.6,421.1 206.9,417.4 209.2,413.6 211.4,410.3 213.7,407.1 216,404.8 218.3,402 220.5,394.6 222.8,382.1 225.1,380.3 227.3,376.6 229.6,372.4 231.9,365.6 234.1,356.9 236.4,349.8 238.7,343.7 241,338.8 243.2,334.1 245.5,330.7 247.8,327.1 250,325.7 252.3,324.2 254.6,324.8 256.8,329.4 259.1,332.7 261.4,334.5 263.6,334.5 265.9,335.6 268.2,336.1 270.5,336.2 272.7,338.1 275,341.3 277.3,344.7 279.5,347.5 281.8,350.3 284.1,356.4 286.3,353.9 288.6,348 290.9,348.7 293.2,349.9 295.4,350.7 297.7,350.9 300,350 302.2,349.5 304.5,349.1 306.8,352.3 309,355.8 311.3,358.7 313.6,362.8 315.8,368.6 318.1,375.4 320.4,376.6 322.7,376.1 324.9,376.9 327.2,377.6 329.5,378.9 331.7,378.8 334,377.7 336.3,376.1 338.5,378.3 340.8,381.2 343.1,384.4 345.4,386.5 347.6,391.6 349.9,392.4 352.2,391.3 354.4,390.1 356.7,389.1 359,386.6 361.2,383.3 363.5,383.6 365.8,383.3 368,384 370.3,383.3 372.6,383.7 374.9,384.3 377.1,384 379.4,384.6 381.7,384.5 383.9,384 386.2,383.4 388.5,383.3 390.7,383.7 393,384.3 395.3,383.9 397.6,382.4 399.8,381.4 402.1,378.6 404.4,375.6 406.6,373.9 408.9,373 411.2,373 413.4,373.4 415.7,372.6 418,373.1 420.2,374.5 422.5,377 424.8,378.5 427.1,378.1 429.3,379.5 431.6,379.5 433.9,379.5 436.1,380.9 438.4,381.8 440.7,383.9 442.9,384.9 445.2,384.9 447.5,383.5 449.8,381.5 452,381.8 454.3,382.4 456.6,382.8 458.8,383.9 461.1,383.3 463.4,383.5 465.6,384 467.9,384.8 470.2,385.5 472.4,387.7 474.7,390.1 477,392.3 479.3,394 481.5,395.4 483.8,396.9 486.1,397.5 488.3,398.2 490.6,398.2 492.9,393.6 495.1,391.2 497.4,393.5 499.7,400.8 502,402.5 504.2,401.9 506.5,400.8 508.8,400.3 511,398.4 513.3,395.4 515.6,393.8 517.8,390.4 520.1,386 522.4,386.6 524.7,387 526.9,386.4 529.2,386 531.5,384.7 533.7,384.3 536,383.7 538.3,384.2 540.5,383.2 542.8,383.3 545.1,382.8 547.3,382.7 549.6,381.3 551.9,381.2 554.2,382.6 556.4,385.3 558.7,384.8 561,382.7 563.2,379.8 565.5,381.4 567.8,380.6 570,377.8 572.3,377.7 574.6,373.7 576.9,370.7 579.1,370.6 581.4,370.3 583.7,372.9 585.9,372.8 588.2,372.5 590.5,372.8 592.7,373.9 595,375.6 597.3,375.7 599.5,374.2 601.8,365.9 604.1,365.5 606.4,366.5 608.6,365.4 610.9,365.2 613.2,365.6 615.4,366.4 617.7,366.5 620,366.5 622.2,366.6 624.5,366.5 626.5,366.3" fill="none" stroke="#333" stroke-width="0.9"/>
<path d="M84.3 456.4V440.4H86.6V411.2H88.9V380.3H91.2V347.3H93.4V333.3H95.7V328.3H98V321.4H100.2V323.1H102.5V330.2H104.8V345.2H107V373H109.3V407.4H111.4V456.4Z" fill="#ffa500"/>
<path d="M138.8 456.4V430.2H141.1V390.3H143.4V345.2H145.6V313.6H147.9V313.6H150.2V313.6H152.4V313.6H154.7V313.6H157V313.6H159.2V316H161.5V337.8H163.8V378H165.9V456.4Z" fill="#ffa500"/>
<path d="M193.3 456.4V430.5H195.6V392.2H197.8V349H200.1V328.1H202.4V319.3H204.6V319.3H206.9V321H209.2V323.6H211.4V329.5H213.7V338.1H216V359H218.3V398.4H220.3V456.4Z" fill="#ffa500"/>
<path d="M247.8 456.4V451.6H250V445.7H252.3V440.4H254.6V437.1H256.8V431.2H259.1V426.4H261.4V421H263.6V418.1H265.9V417.6H268.2V413.8H270.5V427.8H272.7V437.6H274.8V456.4Z" fill="#ffa500"/>
<path d="M302.2 456.4V447.3H304.5V434.2H306.8V416H309V398.6H311.3V384.6H313.6V380.3H315.8V377.5H318.1V371.8H320.4V368H322.7V373H324.9V386.8H327.2V413.8H329.3V456.4Z" fill="#ffa500"/>
<path d="M356.7 456.4V442.3H359V414.5H361.2V392.2H363.5V372.7H365.8V376.1H368V371.1H370.3V365.1H372.6V359.2H374.9V363.7H377.1V372.7H379.4V386.8H381.7V414.3H383.7V456.4Z" fill="#ffa500"/>
<path d="M411.2 456.4V442.3H413.4V420.7H415.7V397H418V385.1H420.2V377.5H422.5V376.8H424.8V376.8H427.1V370.6H429.3V368.5H431.6V376.1H433.9V392.2H436.1V414.3H438.2V456.4Z" fill="#ffa500"/>
<path d="M465.6 456.4V437.6H467.9V416H470.2V391.3H472.4V372.7H474.7V365.9H477V360.9H479.3V357.3H481.5V357.3H483.8V354.5H486.1V365.9H488.3V382.5H490.6V407.4H492.7V456.4Z" fill="#ffa500"/>
<path d="M520.1 456.4V440.4H522.4V416H524.7V388.4H526.9V368H529.2V363.7H531.5V363H533.7V357.3H536V357.3H538.3V360.9H540.5V368.5H542.8V382.5H545.1V411.2H547.1V456.4Z" fill="#ffa500"/>
<path d="M574.6 456.4V442.6H576.9V421.2H579.1V399.3H581.4V384.9H583.7V379.6H585.9V378.2H588.2V377.2H590.5V376.3H592.7V376.8H595V380.3H597.3V390.1H599.5V418.3H601.6V456.4Z" fill="#ffa500"/>
</g>
<rect x="68.5" y="313.6" width="558.0" height="142.8" fill="none" stroke="#222" stroke-width="1.1"/>
<g clip-path="url(#c3)">
<rect x="68.5" y="458.3" width="4.5" height="142.5" fill="#f2f2f2"/><rect x="127.5" y="458.3" width="54.5" height="142.5" fill="#f2f2f2"/><rect x="236.4" y="458.3" width="54.5" height="142.5" fill="#f2f2f2"/><rect x="345.4" y="458.3" width="54.5" height="142.5" fill="#f2f2f2"/><rect x="454.3" y="458.3" width="54.5" height="142.5" fill="#f2f2f2"/><rect x="563.2" y="458.3" width="54.5" height="142.5" fill="#f2f2f2"/>
<line x1="68.5" y1="572.5" x2="626.5" y2="572.5" stroke="#a0a0a0" stroke-dasharray="3 3" stroke-linecap="round"/><line x1="68.5" y1="543.95" x2="626.5" y2="543.95" stroke="#a0a0a0" stroke-dasharray="3 3" stroke-linecap="round"/><line x1="68.5" y1="515.4" x2="626.5" y2="515.4" stroke="#a0a0a0" stroke-dasharray="3 3" stroke-linecap="round"/><line x1="68.5" y1="486.85" x2="626.5" y2="486.85" stroke="#a0a0a0" stroke-dasharray="3 3" stroke-linecap="round"/>
<line x1="73" y1="600.8" x2="73" y2="458.3" stroke="#7e7e7e" stroke-dasharray="3 3" stroke-linecap="round"/><line x1="127.47" y1="600.8" x2="127.47" y2="458.3" stroke="#7e7e7e" stroke-dasharray="3 3" stroke-linecap="round"/><line x1="181.94" y1="600.8" x2="181.94" y2="458.3" stroke="#7e7e7e" stroke-dasharray="3 3" stroke-linecap="round"/><line x1="236.41" y1="600.8" x2="236.41" y2="458.3" stroke="#7e7e7e" stroke-dasharray="3 3" stroke-linecap="round"/><line x1="290.88" y1="600.8" x2="290.88" y2="458.3" stroke="#7e7e7e" stroke-dasharray="3 3" stroke-linecap="round"/><line x1="345.35" y1="600.8" x2="345.35" y2="458.3" stroke="#7e7e7e" stroke-dasharray="3 3" stroke-linecap="round"/><line x1="399.82" y1="600.8" x2="399.82" y2="458.3" stroke="#7e7e7e" stroke-dasharray="3 3" stroke-linecap="round"/><line x1="454.29" y1="600.8" x2="454.29" y2="458.3" stroke="#7e7e7e" stroke-dasharray="3 3" stroke-linecap="round"/><line x1="508.76" y1="600.8" x2="508.76" y2="458.3" stroke="#7e7e7e" stroke-dasharray="3 3" stroke-linecap="round"/><line x1="563.23" y1="600.8" x2="563.23" y2="458.3" stroke="#7e7e7e" stroke-dasharray="3 3" stroke-linecap="round"/><line x1="617.7" y1="600.8" x2="617.7" y2="458.3" stroke="#7e7e7e" stroke-dasharray="3 3" stroke-linecap="round"/><line x1="100.24" y1="600.8" x2="100.24" y2="458.3" stroke="#c8c8c8" stroke-dasharray="3 3" stroke-linecap="round"/><line x1="154.71" y1="600.8" x2="154.71" y2="458.3" stroke="#c8c8c8" stroke-dasharray="3 3" stroke-linecap="round"/><line x1="209.18" y1="600.8" x2="209.18" y2="458.3" stroke="#c8c8c8" stroke-dasharray="3 3" stroke-linecap="round"/><line x1="263.65" y1="600.8" x2="263.65" y2="458.3" stroke="#c8c8c8" stroke-dasharray="3 3" stroke-linecap="round"/><line x1="318.12" y1="600.8" x2="318.12" y2="458.3" stroke="#c8c8c8" stroke-dasharray="3 3" stroke-linecap="round"/><line x1="372.59" y1="600.8" x2="372.59" y2="458.3" stroke="#c8c8c8" stroke-dasharray="3 3" stroke-linecap="round"/><line x1="427.06" y1="600.8" x2="427.06" y2="458.3" stroke="#c8c8c8" stroke-dasharray="3 3" stroke-linecap="round"/><line x1="481.53" y1="600.8" x2="481.53" y2="458.3" stroke="#c8c8c8" stroke-dasharray="3 3" stroke-linecap="round"/><line x1="536" y1="600.8" x2="536" y2="458.3" stroke="#c8c8c8" stroke-dasharray="3 3" stroke-linecap="round"/><line x1="590.47" y1="600.8" x2="590.47" y2="458.3" stroke="#c8c8c8" stroke-dasharray="3 3" stroke-linecap="round"/>
<polyline points="68.5,482.8 69.6,483 70.7,483.3 71.9,484 73,484.8 74.1,484.3 75.3,483.3 76.4,483.1 77.5,483 78.7,482.9 79.8,482.8 80.9,481.7 82.1,479.8 83.2,477.8 84.3,475.6 85.5,473.3 86.6,471.7 87.8,471.7 88.9,471.7 90,472.1 91.2,473.1 92.3,474.3 93.4,476.2 94.6,479.4 95.7,484.5 96.8,490.4 98,497 99.1,502.9 100.2,508.5 101.4,514.3 102.5,520.3 103.6,524.8 104.8,528.2 105.9,529.4 107,530 108.2,529.8 109.3,528.5 110.4,525.9 111.6,521.4 112.7,516.9 113.9,512.1 115,508 116.1,504.5 117.3,501.3 118.4,498.5 119.5,496 120.7,494.3 121.8,493.1 122.9,492.3 124.1,491.8 125.2,491.6 126.3,492.5 127.5,492.9 128.6,492.9 129.7,493.2 130.9,495.1 132,495.5 133.1,494.8 134.3,495.2 135.4,497.8 136.5,498.7 137.7,499.1 138.8,499.7 140,500.8 141.1,502.2 142.2,504 143.4,506.2 144.5,509 145.6,512.7 146.8,517.3 147.9,522.2 149,527.2 150.2,532 151.3,537.2 152.4,543.5 153.6,550.1 154.7,556.6 155.8,562.7 157,568.5 158.1,573.9 159.2,579.1 160.4,583.3 161.5,586.3 162.6,587.8 163.8,588.5 164.9,587.4 166.1,585.6 167.2,584 168.3,582 169.5,578.7 170.6,575.4 171.7,572.6 172.9,569.7 174,566.6 175.1,564.6 176.3,563.4 177.4,563 178.5,562.9 179.7,562.6 180.8,561.6 181.9,559.6 183.1,556.8 184.2,556.8 185.3,557.3 186.5,556.6 187.6,554.8 188.7,553.4 189.9,551.9 191,549.5 192.2,545.4 193.3,541 194.4,536.5 195.6,533.8 196.7,532.2 197.8,531.9 199,531.7 200.1,531.7 201.2,531.8 202.4,532 203.5,533.4 204.6,536.5 205.8,541.1 206.9,546.3 208,550.2 209.2,554 210.3,558.8 211.4,563.3 212.6,567.5 213.7,569.7 214.8,570.8 216,570.7 217.1,567.6 218.3,563.6 219.4,558.6 220.5,552.8 221.7,546.1 222.8,540.5 223.9,535.7 225.1,530.8 226.2,525.8 227.3,520 228.5,514.2 229.6,511.6 230.7,509.7 231.9,505.2 233,500 234.1,497.3 235.3,495.1 236.4,492.8 237.5,490.9 238.7,489.2 239.8,488.4 241,486.9 242.1,485.3 243.2,485.9 244.4,486.7 245.5,484.9 246.6,481.9 247.8,479.4 248.9,476.7 250,473.7 251.2,471.2 252.3,469.5 253.4,469 254.6,469.4 255.7,470 256.8,470.6 258,471.6 259.1,473.3 260.2,475.6 261.4,477.7 262.5,479.9 263.6,482.5 264.8,486.5 265.9,489.2 267.1,490.1 268.2,491.1 269.3,492.7 270.5,493.9 271.6,495.1 272.7,495.7 273.9,493.6 275,490.1 276.1,487.1 277.3,484.5 278.4,482.7 279.5,481.2 280.7,479.6 281.8,478.1 282.9,476.9 284.1,475.5 285.2,473.7 286.3,473.6 287.5,475.3 288.6,476.4 289.7,477.1 290.9,478 292,479.2 293.2,479.3 294.3,479.3 295.4,479.3 296.6,479.3 297.7,479.5 298.8,481.8 300,482.3 301.1,480.6 302.2,479.3 303.4,478.4 304.5,478.5 305.6,480 306.8,481.7 307.9,483.6 309,485.7 310.2,488.2 311.3,491.3 312.4,495.1 313.6,499.1 314.7,503.5 315.8,508.9 317,514.8 318.1,520.7 319.3,526.1 320.4,530.5 321.5,533.7 322.7,536.1 323.8,537.4 324.9,538.1 326.1,538.2 327.2,537.4 328.3,533.3 329.5,527.7 330.6,522.5 331.7,518.3 332.9,514.8 334,511.7 335.1,508.9 336.3,506.5 337.4,504.5 338.5,502.2 339.7,500.1 340.8,499 341.9,498 343.1,495.7 344.2,493.5 345.4,493.2 346.5,492.9 347.6,492.4 348.8,491.5 349.9,488.8 351,486.8 352.2,486.4 353.3,486 354.4,485.1 355.6,483.5 356.7,480.5 357.8,477.4 359,476.6 360.1,476.6 361.2,475.8 362.4,472.5 363.5,472 364.6,472.7 365.8,475.3 366.9,480.2 368,484.6 369.2,488.6 370.3,491.9 371.5,496 372.6,501.1 373.7,506.2 374.9,510.1 376,510.4 377.1,510.8 378.3,515.3 379.4,518.3 380.5,516.5 381.7,514.4 382.8,512.9 383.9,510.6 385.1,506.5 386.2,502.5 387.3,498.9 388.5,495.5 389.6,492.3 390.7,489.6 391.9,487.4 393,486.7 394.1,486.5 395.3,486.1 396.4,485.5 397.6,484.7 398.7,483.8 399.8,483 401,482.1 402.1,479.8 403.2,477.1 404.4,475.8 405.5,475.2 406.6,475.2 407.8,475.2 408.9,473.2 410,470.7 411.2,468.6 412.3,468.1 413.4,467.9 414.6,466.8 415.7,465.2 416.8,464.1 418,463.5 419.1,463.7 420.2,464.7 421.4,471.4 422.5,478.2 423.7,483.1 424.8,488 425.9,493 427.1,497.7 428.2,501.9 429.3,506.1 430.5,510.3 431.6,515.1 432.7,519.7 433.9,520.5 435,520.7 436.1,520.6 437.3,518.2 438.4,515.2 439.5,512.4 440.7,509.5 441.8,506.6 442.9,504 444.1,501.6 445.2,499 446.3,496.2 447.5,495.2 448.6,494.6 449.8,492.6 450.9,489.4 452,487.1 453.2,485.4 454.3,484.6 455.4,484.2 456.6,484.8 457.7,485.6 458.8,486.1 460,486.4 461.1,486.4 462.2,486.4 463.4,485.6 464.5,483.6 465.6,483.2 466.8,482.9 467.9,481.7 469,480.2 470.2,479.6 471.3,479.3 472.4,480 473.6,481.6 474.7,484.3 475.9,487.3 477,489.6 478.1,492.2 479.3,495.6 480.4,499.8 481.5,505.6 482.7,511.4 483.8,517 484.9,523.4 486.1,529.8 487.2,532 488.3,534.1 489.5,539 490.6,541.5 491.7,539.4 492.9,536.6 494,534.2 495.1,531.8 496.3,529.7 497.4,527.7 498.6,526 499.7,524.4 500.8,522.8 502,522.2 503.1,521.9 504.2,521.9 505.4,521.9 506.5,521.1 507.6,519.1 508.8,518.6 509.9,518.3 511,518.7 512.2,519.6 513.3,520.7 514.4,521.7 515.6,521.8 516.7,521.1 517.8,520 519,518.1 520.1,516.5 521.2,515.1 522.4,513.8 523.5,512.7 524.7,512.3 525.8,512.1 526.9,512.1 528.1,512.1 529.2,512.6 530.3,517.8 531.5,522 532.6,524.6 533.7,527.8 534.9,531.5 536,535 537.1,538.6 538.3,542.1 539.4,545.7 540.5,549.3 541.7,552.8 542.8,555.9 543.9,558.5 545.1,560.8 546.2,560.3 547.3,558.5 548.5,562 549.6,561.4 550.8,557.8 551.9,555.4 553,553.7 554.2,553.2 555.3,553 556.4,553 557.6,553 558.7,552.6 559.8,552.5 561,552 562.1,550.9 563.2,550.6 564.4,552 565.5,553.5 566.6,554.5 567.8,554.4 568.9,549.8 570,547.7 571.2,546.7 572.3,548 573.4,552.6 574.6,552.1 575.7,550.7 576.9,550.3 578,550.2 579.1,550.2 580.3,551.1 581.4,552.6 582.5,556.4 583.7,559.8 584.8,561.7 585.9,563.4 587.1,565.4 588.2,567.7 589.3,572.8 590.5,578.6 591.6,582.5 592.7,586.8 593.9,592.1 595,594.6 596.1,595.3 597.3,595.4 598.4,592.3 599.5,591.6 600.7,594.7 601.8,595.6 603,592.7 604.1,589.5 605.2,585.9 606.4,583.3 607.5,581.7 608.6,580.2 609.8,578.4 610.9,576.7 612,575.2 613.2,574.4 614.3,574.9 615.4,575.5 616.6,575.5 617.7,575.5 618.8,575.6 620,577 621.1,578.6 622.2,578.2 623.4,576.4 624.5,576 625.6,575.7 626.5,575.6" fill="none" stroke="#000" stroke-width="1.6" stroke-linejoin="round"/>
</g>
<path d="M68.5 603.5V458.3H626.5V603.5" fill="none" stroke="#222" stroke-width="1.1"/>
<line x1="68.5" y1="600.75" x2="626.5" y2="600.75" stroke="#9a9a9a" stroke-width="1.3"/>
<line x1="68.0" y1="602.35" x2="627.0" y2="602.35" stroke="#707070" stroke-width="2.2"/>
<g clip-path="url(#c4)">
<rect x="68.5" y="602.9" width="4.5" height="287" fill="#f2f2f2"/><rect x="127.5" y="602.9" width="54.5" height="287" fill="#f2f2f2"/><rect x="236.4" y="602.9" width="54.5" height="287" fill="#f2f2f2"/><rect x="345.4" y="602.9" width="54.5" height="287" fill="#f2f2f2"/><rect x="454.3" y="602.9" width="54.5" height="287" fill="#f2f2f2"/><rect x="563.2" y="602.9" width="54.5" height="287" fill="#f2f2f2"/>
<line x1="68.5" y1="813.9" x2="626.5" y2="813.9" stroke="#b0b0b0" stroke-dasharray="3 3" stroke-linecap="round"/><line x1="68.5" y1="738" x2="626.5" y2="738" stroke="#b0b0b0" stroke-dasharray="3 3" stroke-linecap="round"/><line x1="68.5" y1="662.1" x2="626.5" y2="662.1" stroke="#b0b0b0" stroke-dasharray="3 3" stroke-linecap="round"/>
<line x1="73" y1="889.9" x2="73" y2="602.9" stroke="#7e7e7e" stroke-dasharray="3 3" stroke-linecap="round"/><line x1="127.47" y1="889.9" x2="127.47" y2="602.9" stroke="#7e7e7e" stroke-dasharray="3 3" stroke-linecap="round"/><line x1="181.94" y1="889.9" x2="181.94" y2="602.9" stroke="#7e7e7e" stroke-dasharray="3 3" stroke-linecap="round"/><line x1="236.41" y1="889.9" x2="236.41" y2="602.9" stroke="#7e7e7e" stroke-dasharray="3 3" stroke-linecap="round"/><line x1="290.88" y1="889.9" x2="290.88" y2="602.9" stroke="#7e7e7e" stroke-dasharray="3 3" stroke-linecap="round"/><line x1="345.35" y1="889.9" x2="345.35" y2="602.9" stroke="#7e7e7e" stroke-dasharray="3 3" stroke-linecap="round"/><line x1="399.82" y1="889.9" x2="399.82" y2="602.9" stroke="#7e7e7e" stroke-dasharray="3 3" stroke-linecap="round"/><line x1="454.29" y1="889.9" x2="454.29" y2="602.9" stroke="#7e7e7e" stroke-dasharray="3 3" stroke-linecap="round"/><line x1="508.76" y1="889.9" x2="508.76" y2="602.9" stroke="#7e7e7e" stroke-dasharray="3 3" stroke-linecap="round"/><line x1="563.23" y1="889.9" x2="563.23" y2="602.9" stroke="#7e7e7e" stroke-dasharray="3 3" stroke-linecap="round"/><line x1="617.7" y1="889.9" x2="617.7" y2="602.9" stroke="#7e7e7e" stroke-dasharray="3 3" stroke-linecap="round"/><line x1="100.24" y1="889.9" x2="100.24" y2="602.9" stroke="#c8c8c8" stroke-dasharray="3 3" stroke-linecap="round"/><line x1="154.71" y1="889.9" x2="154.71" y2="602.9" stroke="#c8c8c8" stroke-dasharray="3 3" stroke-linecap="round"/><line x1="209.18" y1="889.9" x2="209.18" y2="602.9" stroke="#c8c8c8" stroke-dasharray="3 3" stroke-linecap="round"/><line x1="263.65" y1="889.9" x2="263.65" y2="602.9" stroke="#c8c8c8" stroke-dasharray="3 3" stroke-linecap="round"/><line x1="318.12" y1="889.9" x2="318.12" y2="602.9" stroke="#c8c8c8" stroke-dasharray="3 3" stroke-linecap="round"/><line x1="372.59" y1="889.9" x2="372.59" y2="602.9" stroke="#c8c8c8" stroke-dasharray="3 3" stroke-linecap="round"/><line x1="427.06" y1="889.9" x2="427.06" y2="602.9" stroke="#c8c8c8" stroke-dasharray="3 3" stroke-linecap="round"/><line x1="481.53" y1="889.9" x2="481.53" y2="602.9" stroke="#c8c8c8" stroke-dasharray="3 3" stroke-linecap="round"/><line x1="536" y1="889.9" x2="536" y2="602.9" stroke="#c8c8c8" stroke-dasharray="3 3" stroke-linecap="round"/><line x1="590.47" y1="889.9" x2="590.47" y2="602.9" stroke="#c8c8c8" stroke-dasharray="3 3" stroke-linecap="round"/>
<polygon points="68.5,811.7 70.7,831.2 73,831.2 75.3,850.8 77.5,850.8 79.8,850.8 82.1,831.2 84.3,831.2 86.6,831.2 88.9,831.2 91.2,831.2 93.4,831.2 95.7,831.2 98,831.2 100.2,811.7 102.5,792.2 104.8,792.2 107,811.7 109.3,811.7 111.6,811.7 113.9,831.2 116.1,831.2 118.4,831.2 120.7,811.7 122.9,811.7 125.2,811.7 127.5,831.2 129.7,831.2 132,811.7 134.3,831.2 136.5,831.2 138.8,831.2 141.1,831.2 143.4,831.2 145.6,831.2 147.9,831.2 150.2,831.2 152.4,831.2 154.7,811.7 157,811.7 159.2,811.7 161.5,811.7 163.8,811.7 166.1,811.7 168.3,811.7 170.6,811.7 172.9,811.7 175.1,811.7 177.4,811.7 179.7,831.2 181.9,831.2 184.2,831.2 186.5,831.2 188.7,831.2 191,831.2 193.3,831.2 195.6,831.2 197.8,831.2 200.1,831.2 202.4,811.7 204.6,811.7 206.9,811.7 209.2,792.2 211.4,792.2 213.7,792.2 216,792.2 218.3,792.2 220.5,811.7 222.8,811.7 225.1,811.7 227.3,831.2 229.6,831.2 231.9,831.2 234.1,831.2 236.4,831.2 238.7,831.2 241,831.2 243.2,831.2 245.5,831.2 247.8,831.2 250,831.2 252.3,831.2 254.6,831.2 256.8,811.7 259.1,811.7 261.4,811.7 263.6,811.7 265.9,811.7 268.2,811.7 270.5,811.7 272.7,811.7 275,811.7 277.3,831.2 279.5,831.2 281.8,831.2 284.1,831.2 286.3,831.2 288.6,831.2 290.9,831.2 293.2,831.2 295.4,831.2 297.7,831.2 300,831.2 302.2,831.2 304.5,831.2 306.8,831.2 309,831.2 311.3,811.7 313.6,792.2 315.8,792.2 318.1,792.2 320.4,792.2 322.7,772.7 324.9,772.7 327.2,792.2 329.5,792.2 331.7,811.7 334,811.7 336.3,811.7 338.5,811.7 340.8,811.7 343.1,811.7 345.4,811.7 347.6,831.2 349.9,831.2 352.2,831.2 354.4,831.2 356.7,831.2 359,831.2 361.2,831.2 363.5,831.2 365.8,821.5 368,811.7 370.3,801.9 372.6,792.2 374.9,792.2 377.1,792.2 379.4,792.2 381.7,792.2 383.9,811.7 386.2,811.7 388.5,811.7 390.7,831.2 393,811.7 395.3,831.2 397.6,831.2 399.8,831.2 402.1,831.2 404.4,831.2 406.6,831.2 408.9,831.2 411.2,831.2 413.4,831.2 415.7,831.2 418,811.7 420.2,801.9 422.5,792.2 424.8,792.2 427.1,792.2 429.3,772.7 431.6,772.7 433.9,772.7 436.1,772.7 438.4,792.2 440.7,792.2 442.9,811.7 445.2,811.7 447.5,811.7 449.8,811.7 452,811.7 454.3,811.7 456.6,811.7 458.8,811.7 461.1,811.7 463.4,811.7 465.6,811.7 467.9,811.7 470.2,811.7 472.4,811.7 474.7,792.2 477,792.2 479.3,772.7 481.5,772.7 483.8,772.7 486.1,772.7 488.3,772.7 490.6,772.7 492.9,772.7 495.1,792.2 497.4,792.2 499.7,811.7 502,811.7 504.2,811.7 506.5,811.7 508.8,811.7 511,811.7 513.3,811.7 515.6,811.7 517.8,811.7 520.1,811.7 522.4,811.7 524.7,811.7 526.9,811.7 529.2,792.2 531.5,792.2 533.7,772.7 536,772.7 538.3,772.7 540.5,772.7 542.8,772.7 545.1,772.7 547.3,792.2 549.6,792.2 551.9,792.2 554.2,811.7 556.4,811.7 558.7,811.7 561,811.7 563.2,811.7 565.5,811.7 567.8,811.7 570,811.7 572.3,811.7 574.6,811.7 576.9,811.7 579.1,811.7 581.4,792.2 583.7,792.2 585.9,772.7 588.2,772.7 590.5,753.1 592.7,753.1 595,753.1 597.3,753.1 599.5,753.1 601.8,753.1 604.1,772.7 606.4,772.7 608.6,772.7 610.9,772.7 613.2,772.7 615.4,792.2 617.7,792.2 620,792.2 622.2,792.2 624.5,792.2 626.8,792.2 629.1,792.2 629.1,889.9 68.5,889.9" fill="rgba(0,0,255,0.13)"/>
<path d="M68.5 768.9V796.9M70.7 761.6V789.7M73 751.1V779.3M75.3 732.9V761.2M77.5 726.6V754.9M79.8 717V745.5M82.1 711.6V740.1M84.3 704.9V733.5M86.6 703.5V732.3M88.9 704.8V733.6M91.2 696.8V725.7M93.4 692V721M95.7 680.2V709.3M98 668.4V697.6M100.2 658.9V688.1M102.5 655.6V685M104.8 650.5V680M107 649.8V679.4M109.3 653V682.6M111.6 677.3V707.1M113.9 701.1V730.9M116.1 712.1V742.1M118.4 711.5V741.5M120.7 711.3V741.6M122.9 711.9V742.4M125.2 713.3V744.1M127.5 714.8V745.8M129.7 714.6V745.9M132 716.1V747.6M134.3 716.9V748.7M136.5 719V751M138.8 720.5V752.7M141.1 725.4V757.9M143.4 725V757.8M145.6 724.9V757.9M147.9 730.5V763.7M150.2 743V776.5M152.4 754.6V788.4M154.7 772.3V806.3M157 783.1V817M159.2 794.2V828.1M161.5 792.6V826.5M163.8 788.8V822.7M166.1 778.4V812.2M168.3 766.7V800.4M170.6 760.4V794.1M172.9 754.7V788.4M175.1 746.1V779.8M177.4 741.4V775M179.7 736.6V770.2M181.9 734.4V768M184.2 731.9V765.4M186.5 727.8V761.3M188.7 720.9V754.3M191 719.9V753.3M193.3 718.7V752M195.6 710.8V744.1M197.8 705.1V738.3M200.1 697.2V730.4M202.4 682.9V716.1M204.6 666.1V699.3M206.9 645.8V679M209.2 631.3V664.3M211.4 628.1V661.1M213.7 618.9V651.9M213.7 885.5V889.9M216 618.8V652M216 885.4V889.9M218.3 618.4V651.8M218.3 885V889.9M220.5 617.1V650.6M220.5 883.7V889.9M222.8 624.6V658.3M225.1 642.9V676.8M227.3 660.9V694.9M229.6 663.4V697.6M231.9 662.7V697M234.1 663.9V698.4M236.4 664.7V699.4M238.7 665.6V700.4M241 666.8V701.8M243.2 659.7V694.9M245.5 657.4V692.7M247.8 654.8V690.3M250 649.3V685M252.3 658.4V694.3M254.6 651.4V687.4M256.8 650.6V688.1M259.1 645.1V684.1M261.4 624.7V665.2M263.6 602.9V633.9M263.6 858.5V889.9M265.9 848.2V889.9M265.9 602.9V623.6M268.2 849.8V889.9M268.2 602.9V625.2M270.5 845.9V888M270.5 602.9V621.4M272.7 837V879.2M272.7 602.9V612.6M275 829.7V871.9M275 602.9V605.3M277.3 821.2V863.3M279.5 806.9V849.1M281.8 796.4V838.6M284.1 787.8V830.1M286.3 783V825.3M288.6 783.6V826M290.9 784.6V827M293.2 785.5V827.9M295.4 786.1V828.6M297.7 786.1V828.6M300 785.2V827.6M302.2 784.5V827M304.5 783.5V826.1M306.8 784.5V827.1M309 785.1V827.7M311.3 794V836.6M313.6 799.7V842.3M315.8 802.8V845.5M318.1 806.6V849.3M320.4 809.1V851.9M322.7 810.4V853.2M324.9 809.1V851.9M327.2 807.5V850.4M329.5 803.4V846.2M331.7 799.5V842.5M334 794.4V837.4M336.3 789V832M338.5 784.3V827.3M340.8 783.3V826.3M343.1 780.4V823.5M345.4 775.7V818.8M347.6 775.3V818.5M349.9 773.1V816.2M352.2 772.1V815.3M354.4 772.4V815.6M356.7 776.2V819.5M359 768.3V811.5M361.2 770.8V814.1M363.5 776.8V820.1M365.8 783.1V826.5M368 794.5V837.9M370.3 799.9V843.3M372.6 804V847.5M374.9 810.3V853.8M377.1 811.6V855.1M379.4 811.9V855.5M381.7 803.6V847.2M383.9 803.6V847.2M386.2 796.6V840.3M388.5 790.9V834.6M390.7 776.6V820.3M393 773.4V817.2M395.3 765.5V809.3M397.6 756V799.8M399.8 739.4V783.3M402.1 722.9V766.8M404.4 723.6V767.4M406.6 721V764.9M408.9 725.7V769.7M411.2 726.7V770.7M413.4 760.9V804.9M415.7 771.7V815.7M418 781.5V825.6M420.2 798V842.1M422.5 805.9V850M424.8 817V861.2M427.1 812.9V857.1M429.3 815.4V859.6M431.6 816.9V861.2M433.9 817.6V861.9M436.1 816.9V861.2M438.4 810.6V854.9M440.7 804.8V849.2M442.9 797.8V842.2M445.2 796.2V840.7M447.5 793V837.5M449.8 790.5V835M452 788.9V833.4M454.3 793V837.6M456.6 778.1V822.7M458.8 771.7V816.3M461.1 780.3V824.9M463.4 775.5V820.2M465.6 789.8V834.5M467.9 790.4V835.1M470.2 791.3V836.1M472.4 792.9V837.7M474.7 799.2V844M477 805.5V850.4M479.3 812.5V857.4M481.5 817.2V862.2M483.8 819.1V864.1M486.1 821.3V866.3M488.3 817.2V862.2M490.6 812.4V857.5M492.9 808V853.1M495.1 803.2V848.3M497.4 800V845.2M499.7 794.3V839.5M502 788.9V834.1M504.2 788.5V833.8M506.5 778.4V823.6M508.8 773.6V818.9M511 773.6V818.9M513.3 771V816.4M515.6 761.8V807.2M517.8 758.6V804.1M520.1 757.7V803.1M522.4 754.5V800M524.7 759.9V805.4M526.9 763.3V808.9M529.2 772.8V818.4M531.5 782V827.6M533.7 805.8V851.4M536 825.8V871.4M536 602.9V604.8M538.3 824.2V869.9M538.3 602.9V603.3M540.5 827.3V873M540.5 602.9V606.4M542.8 827.9V873.7M542.8 602.9V607.1M545.1 818.7V864.5M547.3 816.8V862.6M549.6 806V851.8M551.9 793V838.9M554.2 774.9V820.8M556.4 752V798M558.7 762.8V808.8M561 766.3V812.3M563.2 727.5V774.2M565.5 717V764.4M567.8 715.1V763.2M570 712.6V761.3M572.3 704.9V754.4M574.6 701.4V751.5M576.9 693.7V744.6M579.1 699.1V750.7M581.4 698.1V750.4M583.7 707V759.9M585.9 744.1V797.7M588.2 649.5V703.8M590.5 636.2V691.2M592.7 615.7V671M592.7 882.3V889.9M595 620.9V676.6M595 887.5V889.9M597.3 616.7V672.6M597.3 883.3V889.9M599.5 607.3V663.6M599.5 873.9V889.9M601.8 619.5V676.1M601.8 886.1V889.9M604.1 629.8V686.7M606.4 642.4V699.6M608.6 665V722.5M610.9 674.4V732.2M613.2 668.9V727M615.4 675V733.5M617.7 678.1V736.8M620 667.4V726.5M622.2 683.1V742.5M624.5 683V742.7M626.8 671.1V731.1" stroke="rgba(70,70,70,0.4)" stroke-width="1" fill="none"/>
<polyline points="68.5,706.3 70.7,753.1 73,772.7 75.3,792.2 77.5,792.2 79.8,792.2 82.1,792.2 84.3,772.7 86.6,772.7 88.9,772.7 91.2,772.7 93.4,772.7 95.7,753.1 98,733.6 100.2,714.1 102.5,694.6 104.8,694.6 107,694.6 109.3,714.1 111.6,733.6 113.9,772.7 116.1,792.2 118.4,772.7 120.7,772.7 122.9,772.7 125.2,772.7 127.5,772.7 129.7,772.7 132,772.7 134.3,772.7 136.5,772.7 138.8,772.7 141.1,772.7 143.4,792.2 145.6,772.7 147.9,772.7 150.2,772.7 152.4,753.1 154.7,733.6 157,714.1 159.2,714.1 161.5,714.1 163.8,714.1 166.1,733.6 168.3,753.1 170.6,753.1 172.9,753.1 175.1,753.1 177.4,772.7 179.7,772.7 181.9,772.7 184.2,772.7 186.5,792.2 188.7,792.2 191,792.2 193.3,792.2 195.6,772.7 197.8,772.7 200.1,772.7 202.4,753.1 204.6,733.6 206.9,714.1 209.2,694.6 211.4,675 213.7,675 216,694.6 218.3,694.6 220.5,714.1 222.8,733.6 225.1,753.1 227.3,753.1 229.6,772.7 231.9,753.1 234.1,753.1 236.4,733.6 238.7,753.1 241,753.1 243.2,772.7 245.5,753.1 247.8,753.1 250,753.1 252.3,753.1 254.6,753.1 256.8,733.6 259.1,733.6 261.4,714.1 263.6,694.6 265.9,694.6 268.2,714.1 270.5,694.6 272.7,714.1 275,714.1 277.3,733.6 279.5,753.1 281.8,753.1 284.1,753.1 286.3,753.1 288.6,753.1 290.9,772.7 293.2,772.7 295.4,772.7 297.7,772.7 300,772.7 302.2,772.7 304.5,772.7 306.8,772.7 309,753.1 311.3,733.6 313.6,714.1 315.8,694.6 318.1,694.6 320.4,694.6 322.7,675 324.9,675 327.2,675 329.5,701.1 331.7,727.1 334,753.1 336.3,753.1 338.5,753.1 340.8,753.1 343.1,753.1 345.4,753.1 347.6,753.1 349.9,762.9 352.2,772.7 354.4,772.7 356.7,772.7 359,772.7 361.2,772.7 363.5,772.7 365.8,753.1 368,733.6 370.3,714.1 372.6,694.6 374.9,694.6 377.1,675 379.4,675 381.7,694.6 383.9,714.1 386.2,733.6 388.5,753.1 390.7,753.1 393,753.1 395.3,762.9 397.6,772.7 399.8,772.7 402.1,772.7 404.4,772.7 406.6,772.7 408.9,772.7 411.2,772.7 413.4,753.1 415.7,772.7 418,743.4 420.2,714.1 422.5,714.1 424.8,694.6 427.1,675 429.3,675 431.6,675 433.9,675 436.1,655.5 438.4,679.9 440.7,704.3 442.9,728.7 445.2,753.1 447.5,733.6 449.8,733.6 452,753.1 454.3,753.1 456.6,753.1 458.8,753.1 461.1,733.6 463.4,733.6 465.6,733.6 467.9,733.6 470.2,733.6 472.4,714.1 474.7,714.1 477,694.6 479.3,675 481.5,655.5 483.8,636 486.1,636 488.3,636 490.6,655.5 492.9,675 495.1,694.6 497.4,714.1 499.7,733.6 502,714.1 504.2,714.1 506.5,733.6 508.8,733.6 511,733.6 513.3,733.6 515.6,733.6 517.8,733.6 520.1,733.6 522.4,753.1 524.7,733.6 526.9,714.1 529.2,694.6 531.5,694.6 533.7,675 536,655.5 538.3,655.5 540.5,636 542.8,636 545.1,655.5 547.3,675 549.6,694.6 551.9,714.1 554.2,733.6 556.4,733.6 558.7,733.6 561,733.6 563.2,733.6 565.5,733.6 567.8,733.6 570,733.6 572.3,733.6 574.6,714.1 576.9,714.1 579.1,714.1 581.4,694.6 583.7,675 585.9,655.5 588.2,655.5 590.5,636 592.7,636 595,616.5 597.3,616.5 599.5,636 601.8,616.5 604.1,655.5 606.4,675 608.6,675 610.9,694.6 613.2,694.6 615.4,694.6 617.7,694.6 620,694.6 622.2,694.6 624.5,694.6 626.8,694.6 629.1,694.6" fill="none" stroke="#ff0000" stroke-width="1.4" stroke-linejoin="miter"/>
<polyline points="68.5,811.7 70.7,831.2 73,831.2 75.3,850.8 77.5,850.8 79.8,850.8 82.1,831.2 84.3,831.2 86.6,831.2 88.9,831.2 91.2,831.2 93.4,831.2 95.7,831.2 98,831.2 100.2,811.7 102.5,792.2 104.8,792.2 107,811.7 109.3,811.7 111.6,811.7 113.9,831.2 116.1,831.2 118.4,831.2 120.7,811.7 122.9,811.7 125.2,811.7 127.5,831.2 129.7,831.2 132,811.7 134.3,831.2 136.5,831.2 138.8,831.2 141.1,831.2 143.4,831.2 145.6,831.2 147.9,831.2 150.2,831.2 152.4,831.2 154.7,811.7 157,811.7 159.2,811.7 161.5,811.7 163.8,811.7 166.1,811.7 168.3,811.7 170.6,811.7 172.9,811.7 175.1,811.7 177.4,811.7 179.7,831.2 181.9,831.2 184.2,831.2 186.5,831.2 188.7,831.2 191,831.2 193.3,831.2 195.6,831.2 197.8,831.2 200.1,831.2 202.4,811.7 204.6,811.7 206.9,811.7 209.2,792.2 211.4,792.2 213.7,792.2 216,792.2 218.3,792.2 220.5,811.7 222.8,811.7 225.1,811.7 227.3,831.2 229.6,831.2 231.9,831.2 234.1,831.2 236.4,831.2 238.7,831.2 241,831.2 243.2,831.2 245.5,831.2 247.8,831.2 250,831.2 252.3,831.2 254.6,831.2 256.8,811.7 259.1,811.7 261.4,811.7 263.6,811.7 265.9,811.7 268.2,811.7 270.5,811.7 272.7,811.7 275,811.7 277.3,831.2 279.5,831.2 281.8,831.2 284.1,831.2 286.3,831.2 288.6,831.2 290.9,831.2 293.2,831.2 295.4,831.2 297.7,831.2 300,831.2 302.2,831.2 304.5,831.2 306.8,831.2 309,831.2 311.3,811.7 313.6,792.2 315.8,792.2 318.1,792.2 320.4,792.2 322.7,772.7 324.9,772.7 327.2,792.2 329.5,792.2 331.7,811.7 334,811.7 336.3,811.7 338.5,811.7 340.8,811.7 343.1,811.7 345.4,811.7 347.6,831.2 349.9,831.2 352.2,831.2 354.4,831.2 356.7,831.2 359,831.2 361.2,831.2 363.5,831.2 365.8,821.5 368,811.7 370.3,801.9 372.6,792.2 374.9,792.2 377.1,792.2 379.4,792.2 381.7,792.2 383.9,811.7 386.2,811.7 388.5,811.7 390.7,831.2 393,811.7 395.3,831.2 397.6,831.2 399.8,831.2 402.1,831.2 404.4,831.2 406.6,831.2 408.9,831.2 411.2,831.2 413.4,831.2 415.7,831.2 418,811.7 420.2,801.9 422.5,792.2 424.8,792.2 427.1,792.2 429.3,772.7 431.6,772.7 433.9,772.7 436.1,772.7 438.4,792.2 440.7,792.2 442.9,811.7 445.2,811.7 447.5,811.7 449.8,811.7 452,811.7 454.3,811.7 456.6,811.7 458.8,811.7 461.1,811.7 463.4,811.7 465.6,811.7 467.9,811.7 470.2,811.7 472.4,811.7 474.7,792.2 477,792.2 479.3,772.7 481.5,772.7 483.8,772.7 486.1,772.7 488.3,772.7 490.6,772.7 492.9,772.7 495.1,792.2 497.4,792.2 499.7,811.7 502,811.7 504.2,811.7 506.5,811.7 508.8,811.7 511,811.7 513.3,811.7 515.6,811.7 517.8,811.7 520.1,811.7 522.4,811.7 524.7,811.7 526.9,811.7 529.2,792.2 531.5,792.2 533.7,772.7 536,772.7 538.3,772.7 540.5,772.7 542.8,772.7 545.1,772.7 547.3,792.2 549.6,792.2 551.9,792.2 554.2,811.7 556.4,811.7 558.7,811.7 561,811.7 563.2,811.7 565.5,811.7 567.8,811.7 570,811.7 572.3,811.7 574.6,811.7 576.9,811.7 579.1,811.7 581.4,792.2 583.7,792.2 585.9,772.7 588.2,772.7 590.5,753.1 592.7,753.1 595,753.1 597.3,753.1 599.5,753.1 601.8,753.1 604.1,772.7 606.4,772.7 608.6,772.7 610.9,772.7 613.2,772.7 615.4,792.2 617.7,792.2 620,792.2 622.2,792.2 624.5,792.2 626.8,792.2 629.1,792.2" fill="none" stroke="#0000e8" stroke-width="1.45" stroke-linejoin="miter"/>
<g fill="#666" stroke="#151515" stroke-width="1"><circle cx="68.5" cy="782.9" r="1.6"/><circle cx="70.7" cy="775.6" r="1.6"/><circle cx="73" cy="765.2" r="1.6"/><circle cx="75.3" cy="747.1" r="1.6"/><circle cx="77.5" cy="740.7" r="1.6"/><circle cx="79.8" cy="731.2" r="1.6"/><circle cx="82.1" cy="725.8" r="1.6"/><circle cx="84.3" cy="719.2" r="1.6"/><circle cx="86.6" cy="717.9" r="1.6"/><circle cx="88.9" cy="719.2" r="1.6"/><circle cx="91.2" cy="711.2" r="1.6"/><circle cx="93.4" cy="706.5" r="1.6"/><circle cx="95.7" cy="694.7" r="1.6"/><circle cx="98" cy="683" r="1.6"/><circle cx="100.2" cy="673.5" r="1.6"/><circle cx="102.5" cy="670.3" r="1.6"/><circle cx="104.8" cy="665.2" r="1.6"/><circle cx="107" cy="664.6" r="1.6"/><circle cx="109.3" cy="667.8" r="1.6"/><circle cx="111.6" cy="692.2" r="1.6"/><circle cx="113.9" cy="716" r="1.6"/><circle cx="116.1" cy="727.1" r="1.6"/><circle cx="118.4" cy="726.5" r="1.6"/><circle cx="120.7" cy="726.5" r="1.6"/><circle cx="122.9" cy="727.1" r="1.6"/><circle cx="125.2" cy="728.7" r="1.6"/><circle cx="127.5" cy="730.3" r="1.6"/><circle cx="129.7" cy="730.3" r="1.6"/><circle cx="132" cy="731.9" r="1.6"/><circle cx="134.3" cy="732.8" r="1.6"/><circle cx="136.5" cy="735" r="1.6"/><circle cx="138.8" cy="736.6" r="1.6"/><circle cx="141.1" cy="741.7" r="1.6"/><circle cx="143.4" cy="741.4" r="1.6"/><circle cx="145.6" cy="741.4" r="1.6"/><circle cx="147.9" cy="747.1" r="1.6"/><circle cx="150.2" cy="759.8" r="1.6"/><circle cx="152.4" cy="771.5" r="1.6"/><circle cx="154.7" cy="789.3" r="1.6"/><circle cx="157" cy="800.1" r="1.6"/><circle cx="159.2" cy="811.2" r="1.6"/><circle cx="161.5" cy="809.6" r="1.6"/><circle cx="163.8" cy="805.8" r="1.6"/><circle cx="166.1" cy="795.3" r="1.6"/><circle cx="168.3" cy="783.6" r="1.6"/><circle cx="170.6" cy="777.2" r="1.6"/><circle cx="172.9" cy="771.5" r="1.6"/><circle cx="175.1" cy="762.9" r="1.6"/><circle cx="177.4" cy="758.2" r="1.6"/><circle cx="179.7" cy="753.4" r="1.6"/><circle cx="181.9" cy="751.2" r="1.6"/><circle cx="184.2" cy="748.7" r="1.6"/><circle cx="186.5" cy="744.5" r="1.6"/><circle cx="188.7" cy="737.6" r="1.6"/><circle cx="191" cy="736.6" r="1.6"/><circle cx="193.3" cy="735.3" r="1.6"/><circle cx="195.6" cy="727.4" r="1.6"/><circle cx="197.8" cy="721.7" r="1.6"/><circle cx="200.1" cy="713.8" r="1.6"/><circle cx="202.4" cy="699.5" r="1.6"/><circle cx="204.6" cy="682.7" r="1.6"/><circle cx="206.9" cy="662.4" r="1.6"/><circle cx="209.2" cy="647.8" r="1.6"/><circle cx="211.4" cy="644.6" r="1.6"/><circle cx="213.7" cy="635.4" r="1.6"/><circle cx="216" cy="635.4" r="1.6"/><circle cx="218.3" cy="635.1" r="1.6"/><circle cx="220.5" cy="633.8" r="1.6"/><circle cx="222.8" cy="641.5" r="1.6"/><circle cx="225.1" cy="659.9" r="1.6"/><circle cx="227.3" cy="677.9" r="1.6"/><circle cx="229.6" cy="680.5" r="1.6"/><circle cx="231.9" cy="679.8" r="1.6"/><circle cx="234.1" cy="681.1" r="1.6"/><circle cx="236.4" cy="682.1" r="1.6"/><circle cx="238.7" cy="683" r="1.6"/><circle cx="241" cy="684.3" r="1.6"/><circle cx="243.2" cy="677.3" r="1.6"/><circle cx="245.5" cy="675.1" r="1.6"/><circle cx="247.8" cy="672.5" r="1.6"/><circle cx="250" cy="667.2" r="1.6"/><circle cx="252.3" cy="676.3" r="1.6"/><circle cx="254.6" cy="669.4" r="1.6"/><circle cx="256.8" cy="669.4" r="1.6"/><circle cx="259.1" cy="664.6" r="1.6"/><circle cx="261.4" cy="644.9" r="1.6"/><circle cx="263.6" cy="612.9" r="1.6"/><circle cx="265.9" cy="869.2" r="1.6"/><circle cx="268.2" cy="870.8" r="1.6"/><circle cx="270.5" cy="867" r="1.6"/><circle cx="272.7" cy="858.1" r="1.6"/><circle cx="275" cy="850.8" r="1.6"/><circle cx="277.3" cy="842.2" r="1.6"/><circle cx="279.5" cy="828" r="1.6"/><circle cx="281.8" cy="817.5" r="1.6"/><circle cx="284.1" cy="808.9" r="1.6"/><circle cx="286.3" cy="804.2" r="1.6"/><circle cx="288.6" cy="804.8" r="1.6"/><circle cx="290.9" cy="805.8" r="1.6"/><circle cx="293.2" cy="806.7" r="1.6"/><circle cx="295.4" cy="807.4" r="1.6"/><circle cx="297.7" cy="807.4" r="1.6"/><circle cx="300" cy="806.4" r="1.6"/><circle cx="302.2" cy="805.8" r="1.6"/><circle cx="304.5" cy="804.8" r="1.6"/><circle cx="306.8" cy="805.8" r="1.6"/><circle cx="309" cy="806.4" r="1.6"/><circle cx="311.3" cy="815.3" r="1.6"/><circle cx="313.6" cy="821" r="1.6"/><circle cx="315.8" cy="824.2" r="1.6"/><circle cx="318.1" cy="828" r="1.6"/><circle cx="320.4" cy="830.5" r="1.6"/><circle cx="322.7" cy="831.8" r="1.6"/><circle cx="324.9" cy="830.5" r="1.6"/><circle cx="327.2" cy="828.9" r="1.6"/><circle cx="329.5" cy="824.8" r="1.6"/><circle cx="331.7" cy="821" r="1.6"/><circle cx="334" cy="815.9" r="1.6"/><circle cx="336.3" cy="810.5" r="1.6"/><circle cx="338.5" cy="805.8" r="1.6"/><circle cx="340.8" cy="804.8" r="1.6"/><circle cx="343.1" cy="802" r="1.6"/><circle cx="345.4" cy="797.2" r="1.6"/><circle cx="347.6" cy="796.9" r="1.6"/><circle cx="349.9" cy="794.7" r="1.6"/><circle cx="352.2" cy="793.7" r="1.6"/><circle cx="354.4" cy="794" r="1.6"/><circle cx="356.7" cy="797.8" r="1.6"/><circle cx="359" cy="789.9" r="1.6"/><circle cx="361.2" cy="792.4" r="1.6"/><circle cx="363.5" cy="798.5" r="1.6"/><circle cx="365.8" cy="804.8" r="1.6"/><circle cx="368" cy="816.2" r="1.6"/><circle cx="370.3" cy="821.6" r="1.6"/><circle cx="372.6" cy="825.8" r="1.6"/><circle cx="374.9" cy="832.1" r="1.6"/><circle cx="377.1" cy="833.4" r="1.6"/><circle cx="379.4" cy="833.7" r="1.6"/><circle cx="381.7" cy="825.4" r="1.6"/><circle cx="383.9" cy="825.4" r="1.6"/><circle cx="386.2" cy="818.5" r="1.6"/><circle cx="388.5" cy="812.7" r="1.6"/><circle cx="390.7" cy="798.5" r="1.6"/><circle cx="393" cy="795.3" r="1.6"/><circle cx="395.3" cy="787.4" r="1.6"/><circle cx="397.6" cy="777.9" r="1.6"/><circle cx="399.8" cy="761.4" r="1.6"/><circle cx="402.1" cy="744.9" r="1.6"/><circle cx="404.4" cy="745.5" r="1.6"/><circle cx="406.6" cy="743" r="1.6"/><circle cx="408.9" cy="747.7" r="1.6"/><circle cx="411.2" cy="748.7" r="1.6"/><circle cx="413.4" cy="782.9" r="1.6"/><circle cx="415.7" cy="793.7" r="1.6"/><circle cx="418" cy="803.5" r="1.6"/><circle cx="420.2" cy="820" r="1.6"/><circle cx="422.5" cy="828" r="1.6"/><circle cx="424.8" cy="839.1" r="1.6"/><circle cx="427.1" cy="835" r="1.6"/><circle cx="429.3" cy="837.5" r="1.6"/><circle cx="431.6" cy="839.1" r="1.6"/><circle cx="433.9" cy="839.7" r="1.6"/><circle cx="436.1" cy="839.1" r="1.6"/><circle cx="438.4" cy="832.7" r="1.6"/><circle cx="440.7" cy="827" r="1.6"/><circle cx="442.9" cy="820" r="1.6"/><circle cx="445.2" cy="818.5" r="1.6"/><circle cx="447.5" cy="815.3" r="1.6"/><circle cx="449.8" cy="812.7" r="1.6"/><circle cx="452" cy="811.2" r="1.6"/><circle cx="454.3" cy="815.3" r="1.6"/><circle cx="456.6" cy="800.4" r="1.6"/><circle cx="458.8" cy="794" r="1.6"/><circle cx="461.1" cy="802.6" r="1.6"/><circle cx="463.4" cy="797.8" r="1.6"/><circle cx="465.6" cy="812.1" r="1.6"/><circle cx="467.9" cy="812.7" r="1.6"/><circle cx="470.2" cy="813.7" r="1.6"/><circle cx="472.4" cy="815.3" r="1.6"/><circle cx="474.7" cy="821.6" r="1.6"/><circle cx="477" cy="828" r="1.6"/><circle cx="479.3" cy="835" r="1.6"/><circle cx="481.5" cy="839.7" r="1.6"/><circle cx="483.8" cy="841.6" r="1.6"/><circle cx="486.1" cy="843.8" r="1.6"/><circle cx="488.3" cy="839.7" r="1.6"/><circle cx="490.6" cy="835" r="1.6"/><circle cx="492.9" cy="830.5" r="1.6"/><circle cx="495.1" cy="825.8" r="1.6"/><circle cx="497.4" cy="822.6" r="1.6"/><circle cx="499.7" cy="816.9" r="1.6"/><circle cx="502" cy="811.5" r="1.6"/><circle cx="504.2" cy="811.2" r="1.6"/><circle cx="506.5" cy="801" r="1.6"/><circle cx="508.8" cy="796.3" r="1.6"/><circle cx="511" cy="796.3" r="1.6"/><circle cx="513.3" cy="793.7" r="1.6"/><circle cx="515.6" cy="784.5" r="1.6"/><circle cx="517.8" cy="781.3" r="1.6"/><circle cx="520.1" cy="780.4" r="1.6"/><circle cx="522.4" cy="777.2" r="1.6"/><circle cx="524.7" cy="782.6" r="1.6"/><circle cx="526.9" cy="786.1" r="1.6"/><circle cx="529.2" cy="795.6" r="1.6"/><circle cx="531.5" cy="804.8" r="1.6"/><circle cx="533.7" cy="828.6" r="1.6"/><circle cx="536" cy="848.6" r="1.6"/><circle cx="538.3" cy="847" r="1.6"/><circle cx="540.5" cy="850.2" r="1.6"/><circle cx="542.8" cy="850.8" r="1.6"/><circle cx="545.1" cy="841.6" r="1.6"/><circle cx="547.3" cy="839.7" r="1.6"/><circle cx="549.6" cy="828.9" r="1.6"/><circle cx="551.9" cy="815.9" r="1.6"/><circle cx="554.2" cy="797.8" r="1.6"/><circle cx="556.4" cy="775" r="1.6"/><circle cx="558.7" cy="785.8" r="1.6"/><circle cx="561" cy="789.3" r="1.6"/><circle cx="563.2" cy="750.9" r="1.6"/><circle cx="565.5" cy="740.7" r="1.6"/><circle cx="567.8" cy="739.2" r="1.6"/><circle cx="570" cy="736.9" r="1.6"/><circle cx="572.3" cy="729.6" r="1.6"/><circle cx="574.6" cy="726.5" r="1.6"/><circle cx="576.9" cy="719.2" r="1.6"/><circle cx="579.1" cy="724.9" r="1.6"/><circle cx="581.4" cy="724.2" r="1.6"/><circle cx="583.7" cy="733.4" r="1.6"/><circle cx="585.9" cy="770.9" r="1.6"/><circle cx="588.2" cy="676.7" r="1.6"/><circle cx="590.5" cy="663.7" r="1.6"/><circle cx="592.7" cy="643.4" r="1.6"/><circle cx="595" cy="648.8" r="1.6"/><circle cx="597.3" cy="644.6" r="1.6"/><circle cx="599.5" cy="635.4" r="1.6"/><circle cx="601.8" cy="647.8" r="1.6"/><circle cx="604.1" cy="658.3" r="1.6"/><circle cx="606.4" cy="671" r="1.6"/><circle cx="608.6" cy="693.8" r="1.6"/><circle cx="610.9" cy="703.3" r="1.6"/><circle cx="613.2" cy="697.9" r="1.6"/><circle cx="615.4" cy="704.3" r="1.6"/><circle cx="617.7" cy="707.4" r="1.6"/><circle cx="620" cy="697" r="1.6"/><circle cx="622.2" cy="712.8" r="1.6"/><circle cx="624.5" cy="712.8" r="1.6"/><circle cx="626.8" cy="701.1" r="1.6"/></g>
</g>
<rect x="68.5" y="602.9" width="558.0" height="287" fill="none" stroke="#222" stroke-width="1.1"/>
<line x1="69.1" y1="602.35" x2="625.9" y2="602.35" stroke="#707070" stroke-width="2.2"/>
<line x1="68.5" y1="303.9" x2="68.5" y2="35.3" stroke="#111" stroke-width="1"/>
<line x1="68.5" y1="456.1" x2="68.5" y2="313.6" stroke="#111" stroke-width="1"/>
<line x1="68.5" y1="601" x2="68.5" y2="458.3" stroke="#111" stroke-width="1"/>
<line x1="68.5" y1="889.8" x2="68.5" y2="624.1" stroke="#111" stroke-width="1"/>
<line x1="626.5" y1="427.8" x2="626.5" y2="342" stroke="#111" stroke-width="1"/>
<line x1="626.5" y1="580.4" x2="626.5" y2="482.6" stroke="#111" stroke-width="1"/>
<line x1="626.5" y1="813.1" x2="626.5" y2="679.8" stroke="#111" stroke-width="1"/>
<line x1="73" y1="889.9" x2="617.7" y2="889.9" stroke="#111" stroke-width="1"/>
<g fill="#000" opacity="0.99">
<g clip-path="url(#c2)">
<text x="60.6" y="323.9" font-size="8.3" text-anchor="middle" textLength="20" lengthAdjust="spacingAndGlyphs" fill="#000">9.9h/d</text>
<text x="114.5" y="323.9" font-size="8.3" text-anchor="middle" textLength="24" lengthAdjust="spacingAndGlyphs" fill="#000">21.8h/d</text>
<text x="168.9" y="323.9" font-size="8.3" text-anchor="middle" textLength="24" lengthAdjust="spacingAndGlyphs" fill="#000">27.2h/d</text>
<text x="223.4" y="323.9" font-size="8.3" text-anchor="middle" textLength="24" lengthAdjust="spacingAndGlyphs" fill="#000">23.0h/d</text>
<text x="277.9" y="323.9" font-size="8.3" text-anchor="middle" textLength="20" lengthAdjust="spacingAndGlyphs" fill="#000">7.2h/d</text>
<text x="332.3" y="323.9" font-size="8.3" text-anchor="middle" textLength="24" lengthAdjust="spacingAndGlyphs" fill="#000">14.8h/d</text>
<text x="386.8" y="323.9" font-size="8.3" text-anchor="middle" textLength="24" lengthAdjust="spacingAndGlyphs" fill="#000">17.5h/d</text>
<text x="441.3" y="323.9" font-size="8.3" text-anchor="middle" textLength="24" lengthAdjust="spacingAndGlyphs" fill="#000">15.0h/d</text>
<text x="495.7" y="323.9" font-size="8.3" text-anchor="middle" textLength="24" lengthAdjust="spacingAndGlyphs" fill="#000">20.8h/d</text>
<text x="550.2" y="323.9" font-size="8.3" text-anchor="middle" textLength="24" lengthAdjust="spacingAndGlyphs" fill="#000">16.5h/d</text>
</g>
<line x1="63" y1="303.9" x2="68.5" y2="303.9" stroke="#222"/>
<text transform="translate(57.3,303.9) rotate(-90)" font-size="8.3" text-anchor="middle" textLength="4" lengthAdjust="spacingAndGlyphs">0</text>
<line x1="63" y1="236.8" x2="68.5" y2="236.8" stroke="#222"/>
<text transform="translate(57.3,236.8) rotate(-90)" font-size="8.3" text-anchor="middle" textLength="4" lengthAdjust="spacingAndGlyphs">5</text>
<line x1="63" y1="169.6" x2="68.5" y2="169.6" stroke="#222"/>
<text transform="translate(57.3,169.6) rotate(-90)" font-size="8.3" text-anchor="middle" textLength="8" lengthAdjust="spacingAndGlyphs">10</text>
<line x1="63" y1="102.5" x2="68.5" y2="102.5" stroke="#222"/>
<text transform="translate(57.3,102.5) rotate(-90)" font-size="8.3" text-anchor="middle" textLength="8" lengthAdjust="spacingAndGlyphs">15</text>
<line x1="63" y1="35.3" x2="68.5" y2="35.3" stroke="#222"/>
<text transform="translate(57.3,35.3) rotate(-90)" font-size="8.3" text-anchor="middle" textLength="8" lengthAdjust="spacingAndGlyphs">20</text>
<text transform="translate(14.1,168) rotate(-90)" font-size="12" text-anchor="middle" textLength="72" lengthAdjust="spacingAndGlyphs">temperatures</text><text transform="translate(28.9,168) rotate(-90)" font-size="12" text-anchor="middle" textLength="63" lengthAdjust="spacingAndGlyphs">[degrees C]</text>
<line x1="63" y1="456.1" x2="68.5" y2="456.1" stroke="#222"/>
<text transform="translate(57.3,456.1) rotate(-90)" font-size="8.3" text-anchor="middle" textLength="4" lengthAdjust="spacingAndGlyphs">0</text>
<line x1="63" y1="432.4" x2="68.5" y2="432.4" stroke="#222"/>
<text transform="translate(57.3,432.4) rotate(-90)" font-size="8.3" text-anchor="middle" textLength="8" lengthAdjust="spacingAndGlyphs">10</text>
<line x1="63" y1="408.6" x2="68.5" y2="408.6" stroke="#222"/>
<text transform="translate(57.3,408.6) rotate(-90)" font-size="8.3" text-anchor="middle" textLength="8" lengthAdjust="spacingAndGlyphs">20</text>
<line x1="63" y1="384.9" x2="68.5" y2="384.9" stroke="#222"/>
<text transform="translate(57.3,384.9) rotate(-90)" font-size="8.3" text-anchor="middle" textLength="8" lengthAdjust="spacingAndGlyphs">30</text>
<line x1="63" y1="361.1" x2="68.5" y2="361.1" stroke="#222"/>
<text transform="translate(57.3,361.1) rotate(-90)" font-size="8.3" text-anchor="middle" textLength="8" lengthAdjust="spacingAndGlyphs">40</text>
<line x1="63" y1="337.4" x2="68.5" y2="337.4" stroke="#222"/>
<text transform="translate(57.3,337.4) rotate(-90)" font-size="8.3" text-anchor="middle" textLength="8" lengthAdjust="spacingAndGlyphs">50</text>
<line x1="63" y1="313.6" x2="68.5" y2="313.6" stroke="#222"/>
<text transform="translate(57.3,313.6) rotate(-90)" font-size="8.3" text-anchor="middle" textLength="8" lengthAdjust="spacingAndGlyphs">60</text>
<text transform="translate(14.1,385) rotate(-90)" font-size="12" text-anchor="middle" textLength="98" lengthAdjust="spacingAndGlyphs">sunshine duration</text><text transform="translate(28.9,385) rotate(-90)" font-size="12" text-anchor="middle" textLength="77" lengthAdjust="spacingAndGlyphs">[minutes/hour]</text>
<line x1="626.5" y1="427.8" x2="632" y2="427.8" stroke="#222"/>
<text transform="translate(643.7,427.8) rotate(-90)" font-size="8.3" text-anchor="middle" textLength="8" lengthAdjust="spacingAndGlyphs">20</text>
<line x1="626.5" y1="399.2" x2="632" y2="399.2" stroke="#222"/>
<text transform="translate(643.7,399.2) rotate(-90)" font-size="8.3" text-anchor="middle" textLength="8" lengthAdjust="spacingAndGlyphs">40</text>
<line x1="626.5" y1="370.6" x2="632" y2="370.6" stroke="#222"/>
<text transform="translate(643.7,370.6) rotate(-90)" font-size="8.3" text-anchor="middle" textLength="8" lengthAdjust="spacingAndGlyphs">60</text>
<line x1="626.5" y1="342" x2="632" y2="342" stroke="#222"/>
<text transform="translate(643.7,342) rotate(-90)" font-size="8.3" text-anchor="middle" textLength="8" lengthAdjust="spacingAndGlyphs">80</text>
<text transform="translate(657.2,385) rotate(-90)" font-size="12" text-anchor="middle" textLength="104" lengthAdjust="spacingAndGlyphs">total/effective cloud</text><text transform="translate(672.1,385) rotate(-90)" font-size="12" text-anchor="middle" textLength="80" lengthAdjust="spacingAndGlyphs">cover [percent]</text>
<line x1="63" y1="601" x2="68.5" y2="601" stroke="#222"/>
<text transform="translate(57.3,601) rotate(-90)" font-size="8.3" text-anchor="middle" textLength="10" lengthAdjust="spacingAndGlyphs">0.0</text>
<line x1="63" y1="572.5" x2="68.5" y2="572.5" stroke="#222"/>
<text transform="translate(57.3,572.5) rotate(-90)" font-size="8.3" text-anchor="middle" textLength="10" lengthAdjust="spacingAndGlyphs">0.5</text>
<line x1="63" y1="543.9" x2="68.5" y2="543.9" stroke="#222"/>
<text transform="translate(57.3,543.9) rotate(-90)" font-size="8.3" text-anchor="middle" textLength="10" lengthAdjust="spacingAndGlyphs">1.0</text>
<line x1="63" y1="515.4" x2="68.5" y2="515.4" stroke="#222"/>
<text transform="translate(57.3,515.4) rotate(-90)" font-size="8.3" text-anchor="middle" textLength="10" lengthAdjust="spacingAndGlyphs">1.5</text>
<line x1="63" y1="486.8" x2="68.5" y2="486.8" stroke="#222"/>
<text transform="translate(57.3,486.8) rotate(-90)" font-size="8.3" text-anchor="middle" textLength="10" lengthAdjust="spacingAndGlyphs">2.0</text>
<line x1="63" y1="458.3" x2="68.5" y2="458.3" stroke="#222"/>
<text transform="translate(57.3,458.3) rotate(-90)" font-size="8.3" text-anchor="middle" textLength="10" lengthAdjust="spacingAndGlyphs">2.5</text>
<text transform="translate(14.1,529.5) rotate(-90)" font-size="12" text-anchor="middle" textLength="93" lengthAdjust="spacingAndGlyphs">precipitation sum</text><text transform="translate(28.9,529.5) rotate(-90)" font-size="12" text-anchor="middle" textLength="68" lengthAdjust="spacingAndGlyphs">[km m^-2 / h]</text>
<line x1="626.5" y1="580.4" x2="632" y2="580.4" stroke="#222"/>
<text transform="translate(643.7,580.4) rotate(-90)" font-size="8.3" text-anchor="middle" textLength="16" lengthAdjust="spacingAndGlyphs">1020</text>
<line x1="626.5" y1="547.8" x2="632" y2="547.8" stroke="#222"/>
<text transform="translate(643.7,547.8) rotate(-90)" font-size="8.3" text-anchor="middle" textLength="16" lengthAdjust="spacingAndGlyphs">1022</text>
<line x1="626.5" y1="515.2" x2="632" y2="515.2" stroke="#222"/>
<text transform="translate(643.7,515.2) rotate(-90)" font-size="8.3" text-anchor="middle" textLength="16" lengthAdjust="spacingAndGlyphs">1024</text>
<line x1="626.5" y1="482.6" x2="632" y2="482.6" stroke="#222"/>
<text transform="translate(643.7,482.6) rotate(-90)" font-size="8.3" text-anchor="middle" textLength="16" lengthAdjust="spacingAndGlyphs">1026</text>
<text transform="translate(657.2,529.5) rotate(-90)" font-size="12" text-anchor="middle" textLength="91" lengthAdjust="spacingAndGlyphs">surface pressure</text><text transform="translate(672.1,529.5) rotate(-90)" font-size="12" text-anchor="middle" textLength="72" lengthAdjust="spacingAndGlyphs">[hetcopascal]</text>
<line x1="63" y1="889.8" x2="68.5" y2="889.8" stroke="#222"/>
<text transform="translate(57.3,889.8) rotate(-90)" font-size="8.3" text-anchor="middle" textLength="4" lengthAdjust="spacingAndGlyphs">0</text>
<line x1="63" y1="851.8" x2="68.5" y2="851.8" stroke="#222"/>
<text transform="translate(57.3,851.8) rotate(-90)" font-size="8.3" text-anchor="middle" textLength="4" lengthAdjust="spacingAndGlyphs">1</text>
<line x1="63" y1="813.9" x2="68.5" y2="813.9" stroke="#222"/>
<text transform="translate(57.3,813.9) rotate(-90)" font-size="8.3" text-anchor="middle" textLength="4" lengthAdjust="spacingAndGlyphs">2</text>
<line x1="63" y1="775.9" x2="68.5" y2="775.9" stroke="#222"/>
<text transform="translate(57.3,775.9) rotate(-90)" font-size="8.3" text-anchor="middle" textLength="4" lengthAdjust="spacingAndGlyphs">3</text>
<line x1="63" y1="738" x2="68.5" y2="738" stroke="#222"/>
<text transform="translate(57.3,738) rotate(-90)" font-size="8.3" text-anchor="middle" textLength="4" lengthAdjust="spacingAndGlyphs">4</text>
<line x1="63" y1="700" x2="68.5" y2="700" stroke="#222"/>
<text transform="translate(57.3,700) rotate(-90)" font-size="8.3" text-anchor="middle" textLength="4" lengthAdjust="spacingAndGlyphs">5</text>
<line x1="63" y1="662.1" x2="68.5" y2="662.1" stroke="#222"/>
<text transform="translate(57.3,662.1) rotate(-90)" font-size="8.3" text-anchor="middle" textLength="4" lengthAdjust="spacingAndGlyphs">6</text>
<line x1="63" y1="624.1" x2="68.5" y2="624.1" stroke="#222"/>
<text transform="translate(57.3,624.1) rotate(-90)" font-size="8.3" text-anchor="middle" textLength="4" lengthAdjust="spacingAndGlyphs">7</text>
<text transform="translate(14.1,746) rotate(-90)" font-size="12" text-anchor="middle" textLength="143" lengthAdjust="spacingAndGlyphs">wind speed and maximum</text><text transform="translate(28.9,746) rotate(-90)" font-size="12" text-anchor="middle" textLength="117" lengthAdjust="spacingAndGlyphs">hourly wind gust [m/s]</text>
<line x1="626.5" y1="813.1" x2="632" y2="813.1" stroke="#222"/>
<text transform="translate(643.7,813.1) rotate(-90)" font-size="8.3" text-anchor="middle" textLength="8" lengthAdjust="spacingAndGlyphs">90</text>
<line x1="626.5" y1="746.4" x2="632" y2="746.4" stroke="#222"/>
<text transform="translate(643.7,746.4) rotate(-90)" font-size="8.3" text-anchor="middle" textLength="12" lengthAdjust="spacingAndGlyphs">180</text>
<line x1="626.5" y1="679.8" x2="632" y2="679.8" stroke="#222"/>
<text transform="translate(643.7,679.8) rotate(-90)" font-size="8.3" text-anchor="middle" textLength="12" lengthAdjust="spacingAndGlyphs">270</text>
<text transform="translate(657.2,746) rotate(-90)" font-size="12" text-anchor="middle" textLength="76" lengthAdjust="spacingAndGlyphs">wind direction</text><text transform="translate(672.1,746) rotate(-90)" font-size="12" text-anchor="middle" textLength="51" lengthAdjust="spacingAndGlyphs">[degrees]</text>
<line x1="73" y1="889.9" x2="73" y2="894.5" stroke="#222"/>
<line x1="127.5" y1="889.9" x2="127.5" y2="894.5" stroke="#222"/>
<line x1="181.9" y1="889.9" x2="181.9" y2="894.5" stroke="#222"/>
<line x1="236.4" y1="889.9" x2="236.4" y2="894.5" stroke="#222"/>
<line x1="290.9" y1="889.9" x2="290.9" y2="894.5" stroke="#222"/>
<line x1="345.4" y1="889.9" x2="345.4" y2="894.5" stroke="#222"/>
<line x1="399.8" y1="889.9" x2="399.8" y2="894.5" stroke="#222"/>
<line x1="454.3" y1="889.9" x2="454.3" y2="894.5" stroke="#222"/>
<line x1="508.8" y1="889.9" x2="508.8" y2="894.5" stroke="#222"/>
<line x1="563.2" y1="889.9" x2="563.2" y2="894.5" stroke="#222"/>
<line x1="617.7" y1="889.9" x2="617.7" y2="894.5" stroke="#222"/>
<text x="100.6" y="906.8" font-size="8.3" text-anchor="middle" textLength="23" lengthAdjust="spacingAndGlyphs">Feb 26</text>
<text x="155.1" y="906.8" font-size="8.3" text-anchor="middle" textLength="23" lengthAdjust="spacingAndGlyphs">Feb 27</text>
<text x="209.6" y="906.8" font-size="8.3" text-anchor="middle" textLength="23" lengthAdjust="spacingAndGlyphs">Feb 28</text>
<text x="264" y="906.8" font-size="8.3" text-anchor="middle" textLength="24" lengthAdjust="spacingAndGlyphs">Mar 01</text>
<text x="318.5" y="906.8" font-size="8.3" text-anchor="middle" textLength="24" lengthAdjust="spacingAndGlyphs">Mar 02</text>
<text x="373" y="906.8" font-size="8.3" text-anchor="middle" textLength="24" lengthAdjust="spacingAndGlyphs">Mar 03</text>
<text x="427.5" y="906.8" font-size="8.3" text-anchor="middle" textLength="24" lengthAdjust="spacingAndGlyphs">Mar 04</text>
<text x="481.9" y="906.8" font-size="8.3" text-anchor="middle" textLength="24" lengthAdjust="spacingAndGlyphs">Mar 05</text>
<text x="536.4" y="906.8" font-size="8.3" text-anchor="middle" textLength="24" lengthAdjust="spacingAndGlyphs">Mar 06</text>
<text x="590.9" y="906.8" font-size="8.3" text-anchor="middle" textLength="24" lengthAdjust="spacingAndGlyphs">Mar 07</text>
<text x="347.8" y="16.6" font-size="14.45" font-weight="bold" text-anchor="middle">DWD MOSMIX Forecast, MUENCHEN STADT (10865)</text>
</g>
</svg>
</body></html>
